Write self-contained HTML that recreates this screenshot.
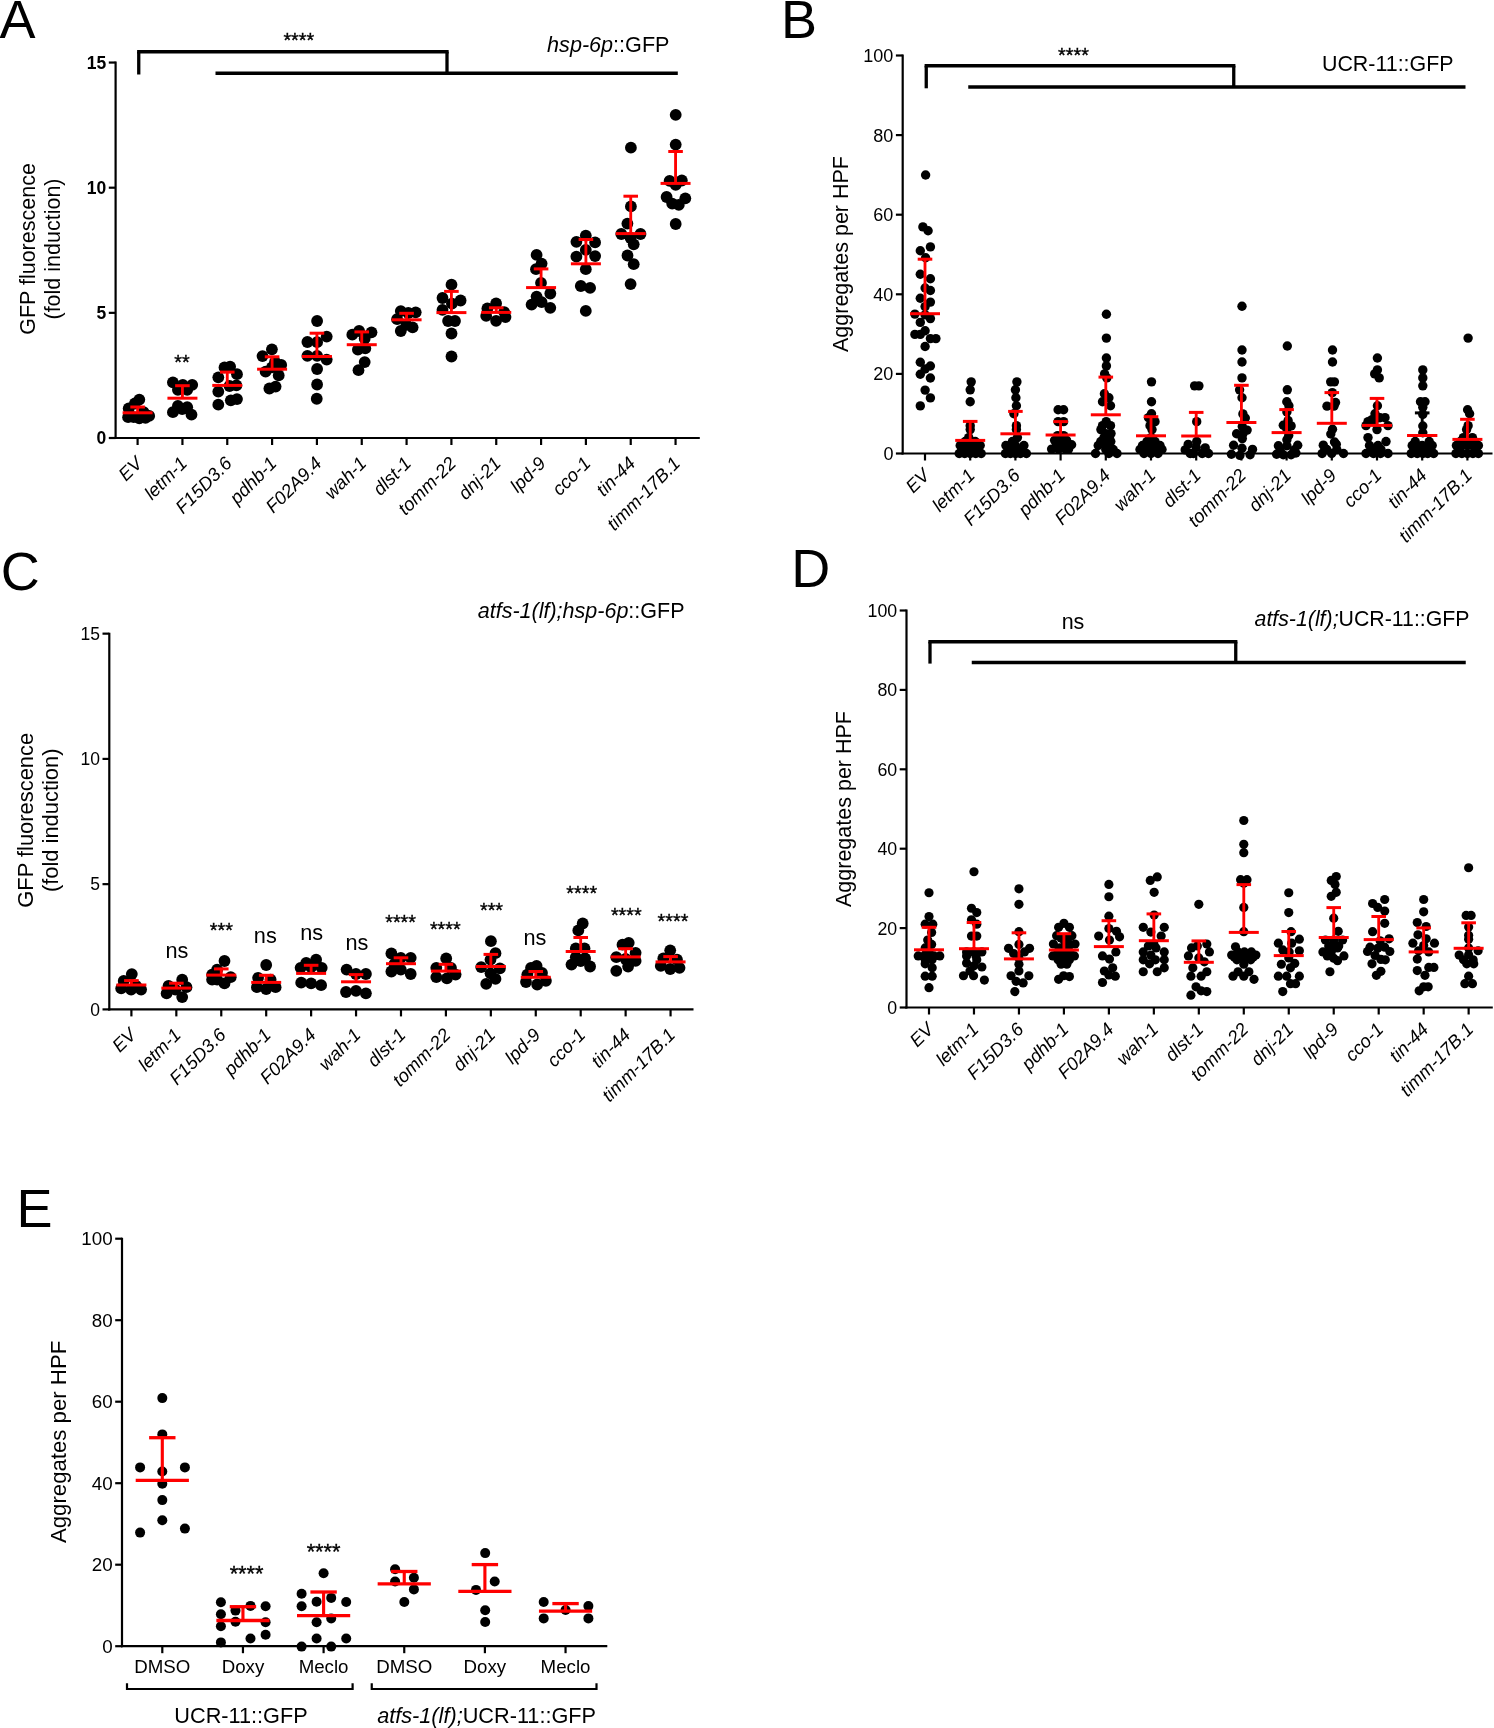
<!DOCTYPE html>
<html><head><meta charset="utf-8"><title>Figure</title>
<style>
html,body{margin:0;padding:0;background:#fff;}
body{width:1494px;height:1728px;overflow:hidden;font-family:"Liberation Sans", sans-serif;}
svg{display:block;will-change:transform;}
text{fill:#000;}
*{-webkit-font-smoothing:antialiased;}
</style></head>
<body>
<svg width="1494" height="1728" viewBox="0 0 1494 1728" font-family='"Liberation Sans", sans-serif'>
<rect width="1494" height="1728" fill="#fff"/>
<text x="-0.50" y="38.00" font-size="54" text-anchor="start" font-weight="normal" font-style="normal" >A</text>
<line x1="115.60" y1="61.55" x2="115.60" y2="439.10" stroke="#000" stroke-width="2.2" stroke-linecap="butt"/>
<line x1="114.50" y1="438.00" x2="699.80" y2="438.00" stroke="#000" stroke-width="2.2" stroke-linecap="butt"/>
<line x1="108.80" y1="438.00" x2="115.60" y2="438.00" stroke="#000" stroke-width="2.2" stroke-linecap="butt"/>
<text x="106.30" y="444.30" font-size="17.5" text-anchor="end" font-weight="bold" font-style="normal" >0</text>
<line x1="108.80" y1="312.85" x2="115.60" y2="312.85" stroke="#000" stroke-width="2.2" stroke-linecap="butt"/>
<text x="106.30" y="319.15" font-size="17.5" text-anchor="end" font-weight="bold" font-style="normal" >5</text>
<line x1="108.80" y1="187.70" x2="115.60" y2="187.70" stroke="#000" stroke-width="2.2" stroke-linecap="butt"/>
<text x="106.30" y="194.00" font-size="17.5" text-anchor="end" font-weight="bold" font-style="normal" >10</text>
<line x1="108.80" y1="62.55" x2="115.60" y2="62.55" stroke="#000" stroke-width="2.2" stroke-linecap="butt"/>
<text x="106.30" y="68.85" font-size="17.5" text-anchor="end" font-weight="bold" font-style="normal" >15</text>
<line x1="137.60" y1="438.00" x2="137.60" y2="445.00" stroke="#000" stroke-width="2.2" stroke-linecap="butt"/>
<line x1="182.43" y1="438.00" x2="182.43" y2="445.00" stroke="#000" stroke-width="2.2" stroke-linecap="butt"/>
<line x1="227.26" y1="438.00" x2="227.26" y2="445.00" stroke="#000" stroke-width="2.2" stroke-linecap="butt"/>
<line x1="272.09" y1="438.00" x2="272.09" y2="445.00" stroke="#000" stroke-width="2.2" stroke-linecap="butt"/>
<line x1="316.92" y1="438.00" x2="316.92" y2="445.00" stroke="#000" stroke-width="2.2" stroke-linecap="butt"/>
<line x1="361.75" y1="438.00" x2="361.75" y2="445.00" stroke="#000" stroke-width="2.2" stroke-linecap="butt"/>
<line x1="406.58" y1="438.00" x2="406.58" y2="445.00" stroke="#000" stroke-width="2.2" stroke-linecap="butt"/>
<line x1="451.41" y1="438.00" x2="451.41" y2="445.00" stroke="#000" stroke-width="2.2" stroke-linecap="butt"/>
<line x1="496.24" y1="438.00" x2="496.24" y2="445.00" stroke="#000" stroke-width="2.2" stroke-linecap="butt"/>
<line x1="541.07" y1="438.00" x2="541.07" y2="445.00" stroke="#000" stroke-width="2.2" stroke-linecap="butt"/>
<line x1="585.90" y1="438.00" x2="585.90" y2="445.00" stroke="#000" stroke-width="2.2" stroke-linecap="butt"/>
<line x1="630.73" y1="438.00" x2="630.73" y2="445.00" stroke="#000" stroke-width="2.2" stroke-linecap="butt"/>
<line x1="675.56" y1="438.00" x2="675.56" y2="445.00" stroke="#000" stroke-width="2.2" stroke-linecap="butt"/>
<text transform="translate(35,249) rotate(-90)" font-size="21.5" text-anchor="middle">GFP fluorescence</text>
<text transform="translate(60.3,249) rotate(-90)" font-size="21.5" text-anchor="middle">(fold induction)</text>
<line x1="138.75" y1="51.75" x2="447.00" y2="51.75" stroke="#000" stroke-width="3.3" stroke-linecap="square"/>
<line x1="138.75" y1="51.75" x2="138.75" y2="74.50" stroke="#000" stroke-width="3.3" stroke-linecap="butt"/>
<line x1="447.00" y1="51.75" x2="447.00" y2="73.25" stroke="#000" stroke-width="3.3" stroke-linecap="butt"/>
<line x1="215.50" y1="73.25" x2="677.80" y2="73.25" stroke="#000" stroke-width="3.3" stroke-linecap="butt"/>
<text x="298.80" y="47.02" font-size="19.8" text-anchor="middle" stroke="#000" stroke-width="0.35">****</text>
<text x="669.5" y="52" font-size="21.6" text-anchor="end"><tspan font-style="italic">hsp-6p</tspan>::GFP</text>
<text transform="translate(143.40,464.50) rotate(-45)" font-size="18.5" text-anchor="end" font-style="italic">EV</text>
<text transform="translate(188.23,464.50) rotate(-45)" font-size="18.5" text-anchor="end" font-style="italic">letm-1</text>
<text transform="translate(233.06,464.50) rotate(-45)" font-size="18.5" text-anchor="end" font-style="italic">F15D3.6</text>
<text transform="translate(277.89,464.50) rotate(-45)" font-size="18.5" text-anchor="end" font-style="italic">pdhb-1</text>
<text transform="translate(322.72,464.50) rotate(-45)" font-size="18.5" text-anchor="end" font-style="italic">F02A9.4</text>
<text transform="translate(367.55,464.50) rotate(-45)" font-size="18.5" text-anchor="end" font-style="italic">wah-1</text>
<text transform="translate(412.38,464.50) rotate(-45)" font-size="18.5" text-anchor="end" font-style="italic">dlst-1</text>
<text transform="translate(457.21,464.50) rotate(-45)" font-size="18.5" text-anchor="end" font-style="italic">tomm-22</text>
<text transform="translate(502.04,464.50) rotate(-45)" font-size="18.5" text-anchor="end" font-style="italic">dnj-21</text>
<text transform="translate(546.87,464.50) rotate(-45)" font-size="18.5" text-anchor="end" font-style="italic">lpd-9</text>
<text transform="translate(591.70,464.50) rotate(-45)" font-size="18.5" text-anchor="end" font-style="italic">cco-1</text>
<text transform="translate(636.53,464.50) rotate(-45)" font-size="18.5" text-anchor="end" font-style="italic">tin-44</text>
<text transform="translate(681.36,464.50) rotate(-45)" font-size="18.5" text-anchor="end" font-style="italic">timm-17B.1</text>
<circle cx="139.30" cy="399.70" r="5.9"/>
<circle cx="134.90" cy="403.50" r="5.9"/>
<circle cx="128.70" cy="408.40" r="5.9"/>
<circle cx="128.10" cy="417.20" r="5.9"/>
<circle cx="139.30" cy="418.40" r="5.9"/>
<circle cx="145.50" cy="417.80" r="5.9"/>
<circle cx="149.20" cy="415.90" r="5.9"/>
<circle cx="133.70" cy="417.20" r="5.9"/>
<circle cx="143.60" cy="412.20" r="5.9"/>
<circle cx="172.90" cy="382.30" r="5.9"/>
<circle cx="182.80" cy="384.80" r="5.9"/>
<circle cx="192.20" cy="384.80" r="5.9"/>
<circle cx="177.90" cy="389.80" r="5.9"/>
<circle cx="187.20" cy="389.80" r="5.9"/>
<circle cx="177.90" cy="405.90" r="5.9"/>
<circle cx="187.20" cy="407.20" r="5.9"/>
<circle cx="182.20" cy="409.10" r="5.9"/>
<circle cx="172.90" cy="412.20" r="5.9"/>
<circle cx="191.50" cy="414.70" r="5.9"/>
<circle cx="224.50" cy="367.40" r="5.9"/>
<circle cx="230.10" cy="366.70" r="5.9"/>
<circle cx="218.30" cy="377.30" r="5.9"/>
<circle cx="237.00" cy="374.20" r="5.9"/>
<circle cx="236.40" cy="385.40" r="5.9"/>
<circle cx="229.50" cy="386.00" r="5.9"/>
<circle cx="218.30" cy="391.60" r="5.9"/>
<circle cx="230.80" cy="400.30" r="5.9"/>
<circle cx="237.00" cy="399.10" r="5.9"/>
<circle cx="218.30" cy="404.70" r="5.9"/>
<circle cx="271.90" cy="349.30" r="5.9"/>
<circle cx="262.50" cy="356.10" r="5.9"/>
<circle cx="281.20" cy="364.90" r="5.9"/>
<circle cx="265.60" cy="371.70" r="5.9"/>
<circle cx="278.70" cy="375.40" r="5.9"/>
<circle cx="269.40" cy="388.50" r="5.9"/>
<circle cx="275.60" cy="386.60" r="5.9"/>
<circle cx="271.90" cy="367.40" r="5.9"/>
<circle cx="275.00" cy="362.00" r="5.9"/>
<circle cx="317.10" cy="321.00" r="5.9"/>
<circle cx="326.70" cy="336.60" r="5.9"/>
<circle cx="307.40" cy="342.00" r="5.9"/>
<circle cx="317.10" cy="342.20" r="5.9"/>
<circle cx="307.40" cy="355.90" r="5.9"/>
<circle cx="317.10" cy="355.90" r="5.9"/>
<circle cx="326.70" cy="359.60" r="5.9"/>
<circle cx="317.10" cy="369.00" r="5.9"/>
<circle cx="317.10" cy="384.50" r="5.9"/>
<circle cx="316.75" cy="398.75" r="5.9"/>
<circle cx="352.30" cy="334.70" r="5.9"/>
<circle cx="359.10" cy="331.00" r="5.9"/>
<circle cx="371.50" cy="332.30" r="5.9"/>
<circle cx="364.70" cy="338.50" r="5.9"/>
<circle cx="357.90" cy="349.70" r="5.9"/>
<circle cx="365.30" cy="348.40" r="5.9"/>
<circle cx="364.70" cy="362.10" r="5.9"/>
<circle cx="358.50" cy="370.20" r="5.9"/>
<circle cx="400.80" cy="311.10" r="5.9"/>
<circle cx="408.30" cy="313.00" r="5.9"/>
<circle cx="415.70" cy="312.30" r="5.9"/>
<circle cx="397.10" cy="319.20" r="5.9"/>
<circle cx="412.60" cy="327.30" r="5.9"/>
<circle cx="400.80" cy="331.00" r="5.9"/>
<circle cx="406.40" cy="324.80" r="5.9"/>
<circle cx="451.50" cy="284.70" r="5.9"/>
<circle cx="442.50" cy="298.00" r="5.9"/>
<circle cx="460.60" cy="300.50" r="5.9"/>
<circle cx="451.90" cy="303.60" r="5.9"/>
<circle cx="442.50" cy="309.80" r="5.9"/>
<circle cx="448.10" cy="321.00" r="5.9"/>
<circle cx="455.00" cy="321.00" r="5.9"/>
<circle cx="451.50" cy="333.50" r="5.9"/>
<circle cx="451.50" cy="356.50" r="5.9"/>
<circle cx="496.10" cy="303.40" r="5.9"/>
<circle cx="487.40" cy="308.40" r="5.9"/>
<circle cx="504.20" cy="312.10" r="5.9"/>
<circle cx="486.20" cy="315.90" r="5.9"/>
<circle cx="496.10" cy="320.80" r="5.9"/>
<circle cx="505.50" cy="317.10" r="5.9"/>
<circle cx="536.60" cy="254.90" r="5.9"/>
<circle cx="541.60" cy="263.60" r="5.9"/>
<circle cx="536.00" cy="269.20" r="5.9"/>
<circle cx="541.00" cy="282.90" r="5.9"/>
<circle cx="536.60" cy="296.60" r="5.9"/>
<circle cx="550.30" cy="293.50" r="5.9"/>
<circle cx="531.60" cy="304.70" r="5.9"/>
<circle cx="541.60" cy="302.20" r="5.9"/>
<circle cx="550.30" cy="307.80" r="5.9"/>
<circle cx="585.80" cy="235.60" r="5.9"/>
<circle cx="576.40" cy="241.80" r="5.9"/>
<circle cx="595.10" cy="242.40" r="5.9"/>
<circle cx="585.80" cy="249.90" r="5.9"/>
<circle cx="576.40" cy="256.70" r="5.9"/>
<circle cx="595.10" cy="256.10" r="5.9"/>
<circle cx="585.80" cy="269.20" r="5.9"/>
<circle cx="580.80" cy="286.00" r="5.9"/>
<circle cx="590.10" cy="287.90" r="5.9"/>
<circle cx="585.80" cy="310.90" r="5.9"/>
<circle cx="630.90" cy="147.70" r="5.9"/>
<circle cx="630.90" cy="206.40" r="5.9"/>
<circle cx="627.40" cy="223.60" r="5.9"/>
<circle cx="621.30" cy="234.00" r="5.9"/>
<circle cx="640.50" cy="234.00" r="5.9"/>
<circle cx="630.60" cy="238.00" r="5.9"/>
<circle cx="633.70" cy="244.30" r="5.9"/>
<circle cx="627.50" cy="255.50" r="5.9"/>
<circle cx="633.70" cy="264.20" r="5.9"/>
<circle cx="630.60" cy="284.10" r="5.9"/>
<circle cx="675.70" cy="114.80" r="5.9"/>
<circle cx="675.70" cy="144.60" r="5.9"/>
<circle cx="669.60" cy="180.90" r="5.9"/>
<circle cx="681.80" cy="180.50" r="5.9"/>
<circle cx="675.70" cy="184.90" r="5.9"/>
<circle cx="666.60" cy="197.00" r="5.9"/>
<circle cx="685.30" cy="198.30" r="5.9"/>
<circle cx="672.20" cy="203.60" r="5.9"/>
<circle cx="678.80" cy="204.90" r="5.9"/>
<circle cx="675.70" cy="224.00" r="5.9"/>
<line x1="137.60" y1="407.00" x2="137.60" y2="412.80" stroke="#ff0000" stroke-width="2.85"/>
<line x1="130.30" y1="407.00" x2="144.90" y2="407.00" stroke="#ff0000" stroke-width="3.0"/>
<line x1="122.60" y1="412.80" x2="152.60" y2="412.80" stroke="#ff0000" stroke-width="3.0"/>
<line x1="182.43" y1="385.70" x2="182.43" y2="398.20" stroke="#ff0000" stroke-width="2.85"/>
<line x1="175.13" y1="385.70" x2="189.73" y2="385.70" stroke="#ff0000" stroke-width="3.0"/>
<line x1="167.43" y1="398.20" x2="197.43" y2="398.20" stroke="#ff0000" stroke-width="3.0"/>
<line x1="227.26" y1="372.10" x2="227.26" y2="385.40" stroke="#ff0000" stroke-width="2.85"/>
<line x1="219.96" y1="372.10" x2="234.56" y2="372.10" stroke="#ff0000" stroke-width="3.0"/>
<line x1="212.26" y1="385.40" x2="242.26" y2="385.40" stroke="#ff0000" stroke-width="3.0"/>
<line x1="272.09" y1="356.80" x2="272.09" y2="369.20" stroke="#ff0000" stroke-width="2.85"/>
<line x1="264.79" y1="356.80" x2="279.39" y2="356.80" stroke="#ff0000" stroke-width="3.0"/>
<line x1="257.09" y1="369.20" x2="287.09" y2="369.20" stroke="#ff0000" stroke-width="3.0"/>
<line x1="316.92" y1="333.20" x2="316.92" y2="356.50" stroke="#ff0000" stroke-width="2.85"/>
<line x1="309.62" y1="333.20" x2="324.22" y2="333.20" stroke="#ff0000" stroke-width="3.0"/>
<line x1="301.92" y1="356.50" x2="331.92" y2="356.50" stroke="#ff0000" stroke-width="3.0"/>
<line x1="361.75" y1="331.90" x2="361.75" y2="344.70" stroke="#ff0000" stroke-width="2.85"/>
<line x1="354.45" y1="331.90" x2="369.05" y2="331.90" stroke="#ff0000" stroke-width="3.0"/>
<line x1="346.75" y1="344.70" x2="376.75" y2="344.70" stroke="#ff0000" stroke-width="3.0"/>
<line x1="406.58" y1="313.30" x2="406.58" y2="319.80" stroke="#ff0000" stroke-width="2.85"/>
<line x1="399.28" y1="313.30" x2="413.88" y2="313.30" stroke="#ff0000" stroke-width="3.0"/>
<line x1="391.58" y1="319.80" x2="421.58" y2="319.80" stroke="#ff0000" stroke-width="3.0"/>
<line x1="451.41" y1="291.40" x2="451.41" y2="312.60" stroke="#ff0000" stroke-width="2.85"/>
<line x1="444.11" y1="291.40" x2="458.71" y2="291.40" stroke="#ff0000" stroke-width="3.0"/>
<line x1="436.41" y1="312.60" x2="466.41" y2="312.60" stroke="#ff0000" stroke-width="3.0"/>
<line x1="496.24" y1="307.80" x2="496.24" y2="312.40" stroke="#ff0000" stroke-width="2.85"/>
<line x1="488.94" y1="307.80" x2="503.54" y2="307.80" stroke="#ff0000" stroke-width="3.0"/>
<line x1="481.24" y1="312.40" x2="511.24" y2="312.40" stroke="#ff0000" stroke-width="3.0"/>
<line x1="541.07" y1="268.90" x2="541.07" y2="287.60" stroke="#ff0000" stroke-width="2.85"/>
<line x1="533.77" y1="268.90" x2="548.37" y2="268.90" stroke="#ff0000" stroke-width="3.0"/>
<line x1="526.07" y1="287.60" x2="556.07" y2="287.60" stroke="#ff0000" stroke-width="3.0"/>
<line x1="585.90" y1="239.50" x2="585.90" y2="263.80" stroke="#ff0000" stroke-width="2.85"/>
<line x1="578.60" y1="239.50" x2="593.20" y2="239.50" stroke="#ff0000" stroke-width="3.0"/>
<line x1="570.90" y1="263.80" x2="600.90" y2="263.80" stroke="#ff0000" stroke-width="3.0"/>
<line x1="630.73" y1="196.20" x2="630.73" y2="233.60" stroke="#ff0000" stroke-width="2.85"/>
<line x1="623.43" y1="196.20" x2="638.03" y2="196.20" stroke="#ff0000" stroke-width="3.0"/>
<line x1="615.73" y1="233.60" x2="645.73" y2="233.60" stroke="#ff0000" stroke-width="3.0"/>
<line x1="675.56" y1="151.50" x2="675.56" y2="183.40" stroke="#ff0000" stroke-width="2.85"/>
<line x1="668.26" y1="151.50" x2="682.86" y2="151.50" stroke="#ff0000" stroke-width="3.0"/>
<line x1="660.56" y1="183.40" x2="690.56" y2="183.40" stroke="#ff0000" stroke-width="3.0"/>
<text x="181.90" y="368.52" font-size="19.8" text-anchor="middle" stroke="#000" stroke-width="0.35">**</text>
<text x="781.10" y="38.00" font-size="54" text-anchor="start" font-weight="normal" font-style="normal" >B</text>
<line x1="902.70" y1="54.50" x2="902.70" y2="454.60" stroke="#000" stroke-width="2.2" stroke-linecap="butt"/>
<line x1="901.60" y1="453.50" x2="1492.50" y2="453.50" stroke="#000" stroke-width="2.2" stroke-linecap="butt"/>
<line x1="895.90" y1="453.50" x2="902.70" y2="453.50" stroke="#000" stroke-width="2.2" stroke-linecap="butt"/>
<text x="893.40" y="459.98" font-size="18" text-anchor="end" font-weight="normal" font-style="normal" >0</text>
<line x1="895.90" y1="373.90" x2="902.70" y2="373.90" stroke="#000" stroke-width="2.2" stroke-linecap="butt"/>
<text x="893.40" y="380.38" font-size="18" text-anchor="end" font-weight="normal" font-style="normal" >20</text>
<line x1="895.90" y1="294.30" x2="902.70" y2="294.30" stroke="#000" stroke-width="2.2" stroke-linecap="butt"/>
<text x="893.40" y="300.78" font-size="18" text-anchor="end" font-weight="normal" font-style="normal" >40</text>
<line x1="895.90" y1="214.70" x2="902.70" y2="214.70" stroke="#000" stroke-width="2.2" stroke-linecap="butt"/>
<text x="893.40" y="221.18" font-size="18" text-anchor="end" font-weight="normal" font-style="normal" >60</text>
<line x1="895.90" y1="135.10" x2="902.70" y2="135.10" stroke="#000" stroke-width="2.2" stroke-linecap="butt"/>
<text x="893.40" y="141.58" font-size="18" text-anchor="end" font-weight="normal" font-style="normal" >80</text>
<line x1="895.90" y1="55.50" x2="902.70" y2="55.50" stroke="#000" stroke-width="2.2" stroke-linecap="butt"/>
<text x="893.40" y="61.98" font-size="18" text-anchor="end" font-weight="normal" font-style="normal" >100</text>
<line x1="925.00" y1="453.50" x2="925.00" y2="460.50" stroke="#000" stroke-width="2.2" stroke-linecap="butt"/>
<line x1="970.20" y1="453.50" x2="970.20" y2="460.50" stroke="#000" stroke-width="2.2" stroke-linecap="butt"/>
<line x1="1015.40" y1="453.50" x2="1015.40" y2="460.50" stroke="#000" stroke-width="2.2" stroke-linecap="butt"/>
<line x1="1060.60" y1="453.50" x2="1060.60" y2="460.50" stroke="#000" stroke-width="2.2" stroke-linecap="butt"/>
<line x1="1105.80" y1="453.50" x2="1105.80" y2="460.50" stroke="#000" stroke-width="2.2" stroke-linecap="butt"/>
<line x1="1151.00" y1="453.50" x2="1151.00" y2="460.50" stroke="#000" stroke-width="2.2" stroke-linecap="butt"/>
<line x1="1196.20" y1="453.50" x2="1196.20" y2="460.50" stroke="#000" stroke-width="2.2" stroke-linecap="butt"/>
<line x1="1241.40" y1="453.50" x2="1241.40" y2="460.50" stroke="#000" stroke-width="2.2" stroke-linecap="butt"/>
<line x1="1286.60" y1="453.50" x2="1286.60" y2="460.50" stroke="#000" stroke-width="2.2" stroke-linecap="butt"/>
<line x1="1331.80" y1="453.50" x2="1331.80" y2="460.50" stroke="#000" stroke-width="2.2" stroke-linecap="butt"/>
<line x1="1377.00" y1="453.50" x2="1377.00" y2="460.50" stroke="#000" stroke-width="2.2" stroke-linecap="butt"/>
<line x1="1422.20" y1="453.50" x2="1422.20" y2="460.50" stroke="#000" stroke-width="2.2" stroke-linecap="butt"/>
<line x1="1467.40" y1="453.50" x2="1467.40" y2="460.50" stroke="#000" stroke-width="2.2" stroke-linecap="butt"/>
<text transform="translate(847.5,254) rotate(-90)" font-size="21.5" text-anchor="middle">Aggregates per HPF</text>
<line x1="926.25" y1="65.75" x2="1233.75" y2="65.75" stroke="#000" stroke-width="3.3" stroke-linecap="square"/>
<line x1="926.25" y1="65.75" x2="926.25" y2="88.30" stroke="#000" stroke-width="3.3" stroke-linecap="butt"/>
<line x1="1233.75" y1="65.75" x2="1233.75" y2="87.00" stroke="#000" stroke-width="3.3" stroke-linecap="butt"/>
<line x1="968.25" y1="87.00" x2="1465.50" y2="87.00" stroke="#000" stroke-width="3.3" stroke-linecap="butt"/>
<text x="1073.50" y="62.02" font-size="19.8" text-anchor="middle" stroke="#000" stroke-width="0.35">****</text>
<text x="1453.50" y="70.50" font-size="21.4" text-anchor="end" font-weight="normal" font-style="normal" >UCR-11::GFP</text>
<text transform="translate(930.80,476.50) rotate(-45)" font-size="18.5" text-anchor="end" font-style="italic">EV</text>
<text transform="translate(976.00,476.50) rotate(-45)" font-size="18.5" text-anchor="end" font-style="italic">letm-1</text>
<text transform="translate(1021.20,476.50) rotate(-45)" font-size="18.5" text-anchor="end" font-style="italic">F15D3.6</text>
<text transform="translate(1066.40,476.50) rotate(-45)" font-size="18.5" text-anchor="end" font-style="italic">pdhb-1</text>
<text transform="translate(1111.60,476.50) rotate(-45)" font-size="18.5" text-anchor="end" font-style="italic">F02A9.4</text>
<text transform="translate(1156.80,476.50) rotate(-45)" font-size="18.5" text-anchor="end" font-style="italic">wah-1</text>
<text transform="translate(1202.00,476.50) rotate(-45)" font-size="18.5" text-anchor="end" font-style="italic">dlst-1</text>
<text transform="translate(1247.20,476.50) rotate(-45)" font-size="18.5" text-anchor="end" font-style="italic">tomm-22</text>
<text transform="translate(1292.40,476.50) rotate(-45)" font-size="18.5" text-anchor="end" font-style="italic">dnj-21</text>
<text transform="translate(1337.60,476.50) rotate(-45)" font-size="18.5" text-anchor="end" font-style="italic">lpd-9</text>
<text transform="translate(1382.80,476.50) rotate(-45)" font-size="18.5" text-anchor="end" font-style="italic">cco-1</text>
<text transform="translate(1428.00,476.50) rotate(-45)" font-size="18.5" text-anchor="end" font-style="italic">tin-44</text>
<text transform="translate(1473.20,476.50) rotate(-45)" font-size="18.5" text-anchor="end" font-style="italic">timm-17B.1</text>
<line x1="1422.20" y1="412.90" x2="1422.20" y2="435.50" stroke="#000" stroke-width="2.85"/>
<line x1="1414.90" y1="412.90" x2="1429.50" y2="412.90" stroke="#000" stroke-width="3.0"/>
<line x1="1407.20" y1="435.50" x2="1437.20" y2="435.50" stroke="#ff0000" stroke-width="3.0"/>
<circle cx="925.60" cy="175.00" r="4.7"/>
<circle cx="922.90" cy="226.90" r="4.7"/>
<circle cx="928.10" cy="230.70" r="4.7"/>
<circle cx="930.40" cy="246.90" r="4.7"/>
<circle cx="920.30" cy="250.70" r="4.7"/>
<circle cx="925.60" cy="257.70" r="4.7"/>
<circle cx="920.30" cy="274.30" r="4.7"/>
<circle cx="930.40" cy="278.80" r="4.7"/>
<circle cx="930.40" cy="290.50" r="4.7"/>
<circle cx="925.10" cy="288.00" r="4.7"/>
<circle cx="920.30" cy="298.30" r="4.7"/>
<circle cx="930.40" cy="302.10" r="4.7"/>
<circle cx="925.10" cy="306.60" r="4.7"/>
<circle cx="914.90" cy="314.10" r="4.7"/>
<circle cx="925.10" cy="314.90" r="4.7"/>
<circle cx="930.40" cy="318.60" r="4.7"/>
<circle cx="920.30" cy="322.40" r="4.7"/>
<circle cx="925.10" cy="330.70" r="4.7"/>
<circle cx="914.90" cy="334.40" r="4.7"/>
<circle cx="920.30" cy="334.40" r="4.7"/>
<circle cx="930.40" cy="338.60" r="4.7"/>
<circle cx="935.90" cy="338.60" r="4.7"/>
<circle cx="925.10" cy="346.50" r="4.7"/>
<circle cx="920.30" cy="362.30" r="4.7"/>
<circle cx="930.40" cy="366.00" r="4.7"/>
<circle cx="925.10" cy="369.00" r="4.7"/>
<circle cx="920.30" cy="374.30" r="4.7"/>
<circle cx="930.40" cy="378.00" r="4.7"/>
<circle cx="925.10" cy="390.10" r="4.7"/>
<circle cx="930.40" cy="397.90" r="4.7"/>
<circle cx="920.30" cy="405.90" r="4.7"/>
<circle cx="971.20" cy="381.86" r="4.7"/>
<circle cx="970.20" cy="389.82" r="4.7"/>
<circle cx="970.20" cy="401.76" r="4.7"/>
<circle cx="970.20" cy="425.64" r="4.7"/>
<circle cx="970.20" cy="429.62" r="4.7"/>
<circle cx="968.70" cy="437.58" r="4.7"/>
<circle cx="965.20" cy="441.56" r="4.7"/>
<circle cx="975.20" cy="441.56" r="4.7"/>
<circle cx="960.20" cy="445.54" r="4.7"/>
<circle cx="965.20" cy="445.54" r="4.7"/>
<circle cx="970.20" cy="445.54" r="4.7"/>
<circle cx="975.20" cy="445.54" r="4.7"/>
<circle cx="980.20" cy="445.54" r="4.7"/>
<circle cx="962.20" cy="449.52" r="4.7"/>
<circle cx="970.20" cy="449.52" r="4.7"/>
<circle cx="978.20" cy="449.52" r="4.7"/>
<circle cx="959.20" cy="453.50" r="4.7"/>
<circle cx="964.70" cy="453.50" r="4.7"/>
<circle cx="970.20" cy="453.50" r="4.7"/>
<circle cx="975.70" cy="453.50" r="4.7"/>
<circle cx="981.20" cy="453.50" r="4.7"/>
<circle cx="1016.90" cy="381.86" r="4.7"/>
<circle cx="1015.40" cy="389.82" r="4.7"/>
<circle cx="1015.90" cy="397.78" r="4.7"/>
<circle cx="1016.40" cy="405.74" r="4.7"/>
<circle cx="1013.90" cy="413.70" r="4.7"/>
<circle cx="1016.40" cy="425.64" r="4.7"/>
<circle cx="1016.40" cy="429.62" r="4.7"/>
<circle cx="1017.40" cy="437.58" r="4.7"/>
<circle cx="1012.40" cy="441.56" r="4.7"/>
<circle cx="1005.90" cy="445.54" r="4.7"/>
<circle cx="1023.90" cy="445.54" r="4.7"/>
<circle cx="1015.40" cy="445.54" r="4.7"/>
<circle cx="1010.40" cy="449.52" r="4.7"/>
<circle cx="1020.40" cy="449.52" r="4.7"/>
<circle cx="1005.40" cy="453.50" r="4.7"/>
<circle cx="1010.40" cy="453.50" r="4.7"/>
<circle cx="1015.40" cy="453.50" r="4.7"/>
<circle cx="1020.40" cy="453.50" r="4.7"/>
<circle cx="1026.40" cy="453.50" r="4.7"/>
<circle cx="1058.10" cy="409.72" r="4.7"/>
<circle cx="1063.60" cy="409.72" r="4.7"/>
<circle cx="1058.10" cy="421.66" r="4.7"/>
<circle cx="1063.60" cy="421.66" r="4.7"/>
<circle cx="1057.60" cy="435.59" r="4.7"/>
<circle cx="1063.60" cy="435.59" r="4.7"/>
<circle cx="1054.60" cy="440.37" r="4.7"/>
<circle cx="1060.60" cy="440.37" r="4.7"/>
<circle cx="1066.60" cy="440.37" r="4.7"/>
<circle cx="1056.60" cy="444.74" r="4.7"/>
<circle cx="1064.60" cy="444.74" r="4.7"/>
<circle cx="1071.60" cy="444.74" r="4.7"/>
<circle cx="1051.60" cy="449.12" r="4.7"/>
<circle cx="1058.60" cy="449.12" r="4.7"/>
<circle cx="1065.60" cy="449.12" r="4.7"/>
<circle cx="1068.60" cy="449.12" r="4.7"/>
<circle cx="1106.40" cy="314.20" r="4.7"/>
<circle cx="1106.40" cy="338.08" r="4.7"/>
<circle cx="1106.40" cy="357.98" r="4.7"/>
<circle cx="1106.40" cy="365.94" r="4.7"/>
<circle cx="1104.60" cy="373.90" r="4.7"/>
<circle cx="1106.80" cy="377.88" r="4.7"/>
<circle cx="1104.40" cy="393.80" r="4.7"/>
<circle cx="1108.90" cy="397.78" r="4.7"/>
<circle cx="1102.50" cy="401.76" r="4.7"/>
<circle cx="1110.50" cy="405.74" r="4.7"/>
<circle cx="1106.20" cy="421.66" r="4.7"/>
<circle cx="1102.50" cy="425.64" r="4.7"/>
<circle cx="1110.50" cy="425.64" r="4.7"/>
<circle cx="1100.90" cy="429.62" r="4.7"/>
<circle cx="1111.00" cy="433.60" r="4.7"/>
<circle cx="1105.80" cy="433.60" r="4.7"/>
<circle cx="1104.00" cy="437.58" r="4.7"/>
<circle cx="1109.40" cy="437.58" r="4.7"/>
<circle cx="1100.80" cy="441.56" r="4.7"/>
<circle cx="1110.80" cy="441.56" r="4.7"/>
<circle cx="1098.20" cy="445.54" r="4.7"/>
<circle cx="1105.70" cy="445.54" r="4.7"/>
<circle cx="1113.20" cy="449.52" r="4.7"/>
<circle cx="1105.80" cy="449.52" r="4.7"/>
<circle cx="1095.50" cy="453.50" r="4.7"/>
<circle cx="1108.90" cy="453.50" r="4.7"/>
<circle cx="1117.00" cy="453.50" r="4.7"/>
<circle cx="1151.50" cy="381.86" r="4.7"/>
<circle cx="1151.50" cy="401.76" r="4.7"/>
<circle cx="1151.50" cy="413.70" r="4.7"/>
<circle cx="1148.50" cy="417.68" r="4.7"/>
<circle cx="1155.00" cy="421.66" r="4.7"/>
<circle cx="1150.00" cy="425.64" r="4.7"/>
<circle cx="1152.00" cy="429.62" r="4.7"/>
<circle cx="1151.00" cy="437.58" r="4.7"/>
<circle cx="1147.00" cy="441.56" r="4.7"/>
<circle cx="1155.00" cy="441.56" r="4.7"/>
<circle cx="1142.50" cy="445.54" r="4.7"/>
<circle cx="1151.00" cy="445.54" r="4.7"/>
<circle cx="1160.00" cy="445.54" r="4.7"/>
<circle cx="1140.00" cy="449.52" r="4.7"/>
<circle cx="1162.00" cy="449.52" r="4.7"/>
<circle cx="1147.00" cy="449.52" r="4.7"/>
<circle cx="1155.00" cy="449.52" r="4.7"/>
<circle cx="1144.00" cy="453.50" r="4.7"/>
<circle cx="1151.00" cy="453.50" r="4.7"/>
<circle cx="1158.00" cy="453.50" r="4.7"/>
<circle cx="1194.60" cy="385.84" r="4.7"/>
<circle cx="1198.90" cy="385.84" r="4.7"/>
<circle cx="1196.70" cy="421.66" r="4.7"/>
<circle cx="1196.70" cy="441.56" r="4.7"/>
<circle cx="1188.20" cy="444.35" r="4.7"/>
<circle cx="1205.20" cy="447.93" r="4.7"/>
<circle cx="1185.20" cy="449.92" r="4.7"/>
<circle cx="1196.20" cy="447.53" r="4.7"/>
<circle cx="1193.50" cy="453.50" r="4.7"/>
<circle cx="1202.20" cy="453.50" r="4.7"/>
<circle cx="1208.50" cy="453.50" r="4.7"/>
<circle cx="1190.20" cy="453.50" r="4.7"/>
<circle cx="1242.00" cy="306.24" r="4.7"/>
<circle cx="1242.00" cy="350.02" r="4.7"/>
<circle cx="1242.00" cy="361.96" r="4.7"/>
<circle cx="1242.00" cy="377.88" r="4.7"/>
<circle cx="1239.60" cy="389.82" r="4.7"/>
<circle cx="1242.00" cy="397.78" r="4.7"/>
<circle cx="1287.30" cy="346.04" r="4.7"/>
<circle cx="1287.30" cy="389.82" r="4.7"/>
<circle cx="1286.80" cy="401.76" r="4.7"/>
<circle cx="1288.90" cy="405.74" r="4.7"/>
<circle cx="1332.50" cy="350.02" r="4.7"/>
<circle cx="1332.50" cy="361.96" r="4.7"/>
<circle cx="1330.70" cy="381.86" r="4.7"/>
<circle cx="1334.40" cy="381.86" r="4.7"/>
<circle cx="1332.30" cy="392.61" r="4.7"/>
<circle cx="1335.50" cy="402.56" r="4.7"/>
<circle cx="1327.00" cy="406.14" r="4.7"/>
<circle cx="1333.90" cy="406.14" r="4.7"/>
<circle cx="1332.50" cy="429.22" r="4.7"/>
<circle cx="1330.80" cy="434.00" r="4.7"/>
<circle cx="1334.50" cy="441.96" r="4.7"/>
<circle cx="1323.30" cy="445.14" r="4.7"/>
<circle cx="1336.30" cy="444.35" r="4.7"/>
<circle cx="1326.80" cy="449.52" r="4.7"/>
<circle cx="1336.80" cy="449.52" r="4.7"/>
<circle cx="1322.10" cy="453.50" r="4.7"/>
<circle cx="1331.70" cy="453.50" r="4.7"/>
<circle cx="1343.50" cy="453.50" r="4.7"/>
<circle cx="1377.40" cy="357.98" r="4.7"/>
<circle cx="1377.40" cy="369.92" r="4.7"/>
<circle cx="1374.70" cy="373.90" r="4.7"/>
<circle cx="1379.20" cy="377.88" r="4.7"/>
<circle cx="1377.40" cy="405.74" r="4.7"/>
<circle cx="1375.00" cy="413.70" r="4.7"/>
<circle cx="1385.00" cy="417.68" r="4.7"/>
<circle cx="1380.00" cy="417.68" r="4.7"/>
<circle cx="1372.00" cy="419.67" r="4.7"/>
<circle cx="1368.00" cy="421.66" r="4.7"/>
<circle cx="1374.00" cy="421.66" r="4.7"/>
<circle cx="1366.00" cy="425.64" r="4.7"/>
<circle cx="1388.00" cy="425.64" r="4.7"/>
<circle cx="1377.00" cy="429.62" r="4.7"/>
<circle cx="1368.00" cy="437.58" r="4.7"/>
<circle cx="1386.00" cy="441.56" r="4.7"/>
<circle cx="1369.50" cy="445.54" r="4.7"/>
<circle cx="1378.00" cy="445.54" r="4.7"/>
<circle cx="1373.00" cy="449.52" r="4.7"/>
<circle cx="1381.00" cy="449.52" r="4.7"/>
<circle cx="1366.00" cy="453.50" r="4.7"/>
<circle cx="1373.50" cy="453.50" r="4.7"/>
<circle cx="1380.50" cy="453.50" r="4.7"/>
<circle cx="1388.00" cy="453.50" r="4.7"/>
<circle cx="1422.80" cy="369.92" r="4.7"/>
<circle cx="1422.80" cy="377.88" r="4.7"/>
<circle cx="1422.80" cy="385.84" r="4.7"/>
<circle cx="1420.50" cy="401.76" r="4.7"/>
<circle cx="1425.00" cy="401.76" r="4.7"/>
<circle cx="1422.80" cy="407.33" r="4.7"/>
<circle cx="1422.80" cy="414.50" r="4.7"/>
<circle cx="1422.80" cy="426.04" r="4.7"/>
<circle cx="1422.80" cy="432.80" r="4.7"/>
<circle cx="1415.20" cy="441.56" r="4.7"/>
<circle cx="1429.20" cy="441.56" r="4.7"/>
<circle cx="1412.20" cy="445.54" r="4.7"/>
<circle cx="1432.20" cy="445.54" r="4.7"/>
<circle cx="1422.20" cy="445.54" r="4.7"/>
<circle cx="1417.20" cy="449.52" r="4.7"/>
<circle cx="1427.20" cy="449.52" r="4.7"/>
<circle cx="1411.20" cy="453.50" r="4.7"/>
<circle cx="1417.20" cy="453.50" r="4.7"/>
<circle cx="1422.80" cy="453.50" r="4.7"/>
<circle cx="1427.70" cy="453.50" r="4.7"/>
<circle cx="1433.70" cy="453.50" r="4.7"/>
<circle cx="1468.10" cy="338.08" r="4.7"/>
<circle cx="1467.60" cy="409.72" r="4.7"/>
<circle cx="1469.60" cy="413.70" r="4.7"/>
<circle cx="1468.10" cy="425.64" r="4.7"/>
<circle cx="1466.60" cy="429.62" r="4.7"/>
<circle cx="1463.40" cy="437.58" r="4.7"/>
<circle cx="1472.40" cy="437.58" r="4.7"/>
<circle cx="1460.40" cy="441.56" r="4.7"/>
<circle cx="1467.40" cy="441.56" r="4.7"/>
<circle cx="1474.40" cy="441.56" r="4.7"/>
<circle cx="1456.40" cy="445.54" r="4.7"/>
<circle cx="1462.40" cy="445.54" r="4.7"/>
<circle cx="1467.40" cy="445.54" r="4.7"/>
<circle cx="1472.40" cy="445.54" r="4.7"/>
<circle cx="1478.40" cy="445.54" r="4.7"/>
<circle cx="1459.40" cy="449.52" r="4.7"/>
<circle cx="1475.40" cy="449.52" r="4.7"/>
<circle cx="1455.90" cy="453.50" r="4.7"/>
<circle cx="1461.90" cy="453.50" r="4.7"/>
<circle cx="1467.40" cy="453.50" r="4.7"/>
<circle cx="1472.90" cy="453.50" r="4.7"/>
<circle cx="1478.40" cy="453.50" r="4.7"/>
<circle cx="1242.30" cy="426.50" r="4.7"/>
<circle cx="1247.10" cy="430.10" r="4.7"/>
<circle cx="1236.60" cy="433.70" r="4.7"/>
<circle cx="1242.90" cy="433.70" r="4.7"/>
<circle cx="1242.30" cy="438.60" r="4.7"/>
<circle cx="1233.60" cy="445.20" r="4.7"/>
<circle cx="1242.00" cy="448.20" r="4.7"/>
<circle cx="1252.50" cy="449.40" r="4.7"/>
<circle cx="1231.40" cy="454.20" r="4.7"/>
<circle cx="1239.90" cy="455.40" r="4.7"/>
<circle cx="1250.10" cy="454.80" r="4.7"/>
<circle cx="1242.90" cy="413.90" r="4.7"/>
<circle cx="1245.30" cy="418.10" r="4.7"/>
<circle cx="1286.90" cy="412.00" r="4.7"/>
<circle cx="1288.10" cy="420.50" r="4.7"/>
<circle cx="1283.30" cy="425.30" r="4.7"/>
<circle cx="1291.10" cy="425.90" r="4.7"/>
<circle cx="1286.90" cy="428.90" r="4.7"/>
<circle cx="1288.70" cy="435.50" r="4.7"/>
<circle cx="1286.90" cy="439.80" r="4.7"/>
<circle cx="1278.40" cy="445.80" r="4.7"/>
<circle cx="1297.70" cy="445.20" r="4.7"/>
<circle cx="1286.90" cy="445.80" r="4.7"/>
<circle cx="1276.60" cy="454.20" r="4.7"/>
<circle cx="1283.30" cy="454.80" r="4.7"/>
<circle cx="1291.10" cy="454.80" r="4.7"/>
<circle cx="1295.90" cy="453.00" r="4.7"/>
<circle cx="1280.20" cy="450.00" r="4.7"/>
<circle cx="1294.10" cy="450.00" r="4.7"/>
<line x1="925.00" y1="259.20" x2="925.00" y2="313.70" stroke="#ff0000" stroke-width="2.85"/>
<line x1="917.70" y1="259.20" x2="932.30" y2="259.20" stroke="#ff0000" stroke-width="3.0"/>
<line x1="910.00" y1="313.70" x2="940.00" y2="313.70" stroke="#ff0000" stroke-width="3.0"/>
<line x1="970.20" y1="421.40" x2="970.20" y2="440.40" stroke="#ff0000" stroke-width="2.85"/>
<line x1="962.90" y1="421.40" x2="977.50" y2="421.40" stroke="#ff0000" stroke-width="3.0"/>
<line x1="955.20" y1="440.40" x2="985.20" y2="440.40" stroke="#ff0000" stroke-width="3.0"/>
<line x1="1015.40" y1="411.40" x2="1015.40" y2="433.80" stroke="#ff0000" stroke-width="2.85"/>
<line x1="1008.10" y1="411.40" x2="1022.70" y2="411.40" stroke="#ff0000" stroke-width="3.0"/>
<line x1="1000.40" y1="433.80" x2="1030.40" y2="433.80" stroke="#ff0000" stroke-width="3.0"/>
<line x1="1060.60" y1="421.60" x2="1060.60" y2="435.00" stroke="#ff0000" stroke-width="2.85"/>
<line x1="1053.30" y1="421.60" x2="1067.90" y2="421.60" stroke="#ff0000" stroke-width="3.0"/>
<line x1="1045.60" y1="435.00" x2="1075.60" y2="435.00" stroke="#ff0000" stroke-width="3.0"/>
<line x1="1105.80" y1="377.10" x2="1105.80" y2="414.80" stroke="#ff0000" stroke-width="2.85"/>
<line x1="1098.50" y1="377.10" x2="1113.10" y2="377.10" stroke="#ff0000" stroke-width="3.0"/>
<line x1="1090.80" y1="414.80" x2="1120.80" y2="414.80" stroke="#ff0000" stroke-width="3.0"/>
<line x1="1151.00" y1="416.70" x2="1151.00" y2="435.80" stroke="#ff0000" stroke-width="2.85"/>
<line x1="1143.70" y1="416.70" x2="1158.30" y2="416.70" stroke="#ff0000" stroke-width="3.0"/>
<line x1="1136.00" y1="435.80" x2="1166.00" y2="435.80" stroke="#ff0000" stroke-width="3.0"/>
<line x1="1196.20" y1="412.40" x2="1196.20" y2="436.00" stroke="#ff0000" stroke-width="2.85"/>
<line x1="1188.90" y1="412.40" x2="1203.50" y2="412.40" stroke="#ff0000" stroke-width="3.0"/>
<line x1="1181.20" y1="436.00" x2="1211.20" y2="436.00" stroke="#ff0000" stroke-width="3.0"/>
<line x1="1241.40" y1="385.30" x2="1241.40" y2="422.50" stroke="#ff0000" stroke-width="2.85"/>
<line x1="1234.10" y1="385.30" x2="1248.70" y2="385.30" stroke="#ff0000" stroke-width="3.0"/>
<line x1="1226.40" y1="422.50" x2="1256.40" y2="422.50" stroke="#ff0000" stroke-width="3.0"/>
<line x1="1286.60" y1="409.60" x2="1286.60" y2="432.60" stroke="#ff0000" stroke-width="2.85"/>
<line x1="1279.30" y1="409.60" x2="1293.90" y2="409.60" stroke="#ff0000" stroke-width="3.0"/>
<line x1="1271.60" y1="432.60" x2="1301.60" y2="432.60" stroke="#ff0000" stroke-width="3.0"/>
<line x1="1331.80" y1="392.60" x2="1331.80" y2="423.30" stroke="#ff0000" stroke-width="2.85"/>
<line x1="1324.50" y1="392.60" x2="1339.10" y2="392.60" stroke="#ff0000" stroke-width="3.0"/>
<line x1="1316.80" y1="423.30" x2="1346.80" y2="423.30" stroke="#ff0000" stroke-width="3.0"/>
<line x1="1377.00" y1="398.40" x2="1377.00" y2="425.40" stroke="#ff0000" stroke-width="2.85"/>
<line x1="1369.70" y1="398.40" x2="1384.30" y2="398.40" stroke="#ff0000" stroke-width="3.0"/>
<line x1="1362.00" y1="425.40" x2="1392.00" y2="425.40" stroke="#ff0000" stroke-width="3.0"/>
<line x1="1407.20" y1="435.50" x2="1437.20" y2="435.50" stroke="#ff0000" stroke-width="3.0" stroke-linecap="butt"/>
<line x1="1467.40" y1="419.30" x2="1467.40" y2="439.40" stroke="#ff0000" stroke-width="2.85"/>
<line x1="1460.10" y1="419.30" x2="1474.70" y2="419.30" stroke="#ff0000" stroke-width="3.0"/>
<line x1="1452.40" y1="439.40" x2="1482.40" y2="439.40" stroke="#ff0000" stroke-width="3.0"/>
<text x="0.65" y="589.90" font-size="54" text-anchor="start" font-weight="normal" font-style="normal" >C</text>
<line x1="109.30" y1="632.65" x2="109.30" y2="1010.50" stroke="#000" stroke-width="2.2" stroke-linecap="butt"/>
<line x1="108.20" y1="1009.40" x2="693.50" y2="1009.40" stroke="#000" stroke-width="2.2" stroke-linecap="butt"/>
<line x1="102.50" y1="1009.40" x2="109.30" y2="1009.40" stroke="#000" stroke-width="2.2" stroke-linecap="butt"/>
<text x="100.00" y="1015.70" font-size="17.5" text-anchor="end" font-weight="normal" font-style="normal" >0</text>
<line x1="102.50" y1="884.15" x2="109.30" y2="884.15" stroke="#000" stroke-width="2.2" stroke-linecap="butt"/>
<text x="100.00" y="890.45" font-size="17.5" text-anchor="end" font-weight="normal" font-style="normal" >5</text>
<line x1="102.50" y1="758.90" x2="109.30" y2="758.90" stroke="#000" stroke-width="2.2" stroke-linecap="butt"/>
<text x="100.00" y="765.20" font-size="17.5" text-anchor="end" font-weight="normal" font-style="normal" >10</text>
<line x1="102.50" y1="633.65" x2="109.30" y2="633.65" stroke="#000" stroke-width="2.2" stroke-linecap="butt"/>
<text x="100.00" y="639.95" font-size="17.5" text-anchor="end" font-weight="normal" font-style="normal" >15</text>
<line x1="131.40" y1="1009.40" x2="131.40" y2="1016.40" stroke="#000" stroke-width="2.2" stroke-linecap="butt"/>
<line x1="176.33" y1="1009.40" x2="176.33" y2="1016.40" stroke="#000" stroke-width="2.2" stroke-linecap="butt"/>
<line x1="221.26" y1="1009.40" x2="221.26" y2="1016.40" stroke="#000" stroke-width="2.2" stroke-linecap="butt"/>
<line x1="266.19" y1="1009.40" x2="266.19" y2="1016.40" stroke="#000" stroke-width="2.2" stroke-linecap="butt"/>
<line x1="311.12" y1="1009.40" x2="311.12" y2="1016.40" stroke="#000" stroke-width="2.2" stroke-linecap="butt"/>
<line x1="356.05" y1="1009.40" x2="356.05" y2="1016.40" stroke="#000" stroke-width="2.2" stroke-linecap="butt"/>
<line x1="400.98" y1="1009.40" x2="400.98" y2="1016.40" stroke="#000" stroke-width="2.2" stroke-linecap="butt"/>
<line x1="445.91" y1="1009.40" x2="445.91" y2="1016.40" stroke="#000" stroke-width="2.2" stroke-linecap="butt"/>
<line x1="490.84" y1="1009.40" x2="490.84" y2="1016.40" stroke="#000" stroke-width="2.2" stroke-linecap="butt"/>
<line x1="535.77" y1="1009.40" x2="535.77" y2="1016.40" stroke="#000" stroke-width="2.2" stroke-linecap="butt"/>
<line x1="580.70" y1="1009.40" x2="580.70" y2="1016.40" stroke="#000" stroke-width="2.2" stroke-linecap="butt"/>
<line x1="625.63" y1="1009.40" x2="625.63" y2="1016.40" stroke="#000" stroke-width="2.2" stroke-linecap="butt"/>
<line x1="670.56" y1="1009.40" x2="670.56" y2="1016.40" stroke="#000" stroke-width="2.2" stroke-linecap="butt"/>
<text transform="translate(32.5,820.3) rotate(-90)" font-size="21.9" text-anchor="middle">GFP fluorescence</text>
<text transform="translate(57.8,820.3) rotate(-90)" font-size="21.9" text-anchor="middle">(fold induction)</text>
<text x="684.5" y="618.3" font-size="21.5" text-anchor="end"><tspan font-style="italic">atfs-1(lf);hsp-6p</tspan>::GFP</text>
<text transform="translate(137.20,1035.90) rotate(-45)" font-size="18.5" text-anchor="end" font-style="italic">EV</text>
<text transform="translate(182.13,1035.90) rotate(-45)" font-size="18.5" text-anchor="end" font-style="italic">letm-1</text>
<text transform="translate(227.06,1035.90) rotate(-45)" font-size="18.5" text-anchor="end" font-style="italic">F15D3.6</text>
<text transform="translate(271.99,1035.90) rotate(-45)" font-size="18.5" text-anchor="end" font-style="italic">pdhb-1</text>
<text transform="translate(316.92,1035.90) rotate(-45)" font-size="18.5" text-anchor="end" font-style="italic">F02A9.4</text>
<text transform="translate(361.85,1035.90) rotate(-45)" font-size="18.5" text-anchor="end" font-style="italic">wah-1</text>
<text transform="translate(406.78,1035.90) rotate(-45)" font-size="18.5" text-anchor="end" font-style="italic">dlst-1</text>
<text transform="translate(451.71,1035.90) rotate(-45)" font-size="18.5" text-anchor="end" font-style="italic">tomm-22</text>
<text transform="translate(496.64,1035.90) rotate(-45)" font-size="18.5" text-anchor="end" font-style="italic">dnj-21</text>
<text transform="translate(541.57,1035.90) rotate(-45)" font-size="18.5" text-anchor="end" font-style="italic">lpd-9</text>
<text transform="translate(586.50,1035.90) rotate(-45)" font-size="18.5" text-anchor="end" font-style="italic">cco-1</text>
<text transform="translate(631.43,1035.90) rotate(-45)" font-size="18.5" text-anchor="end" font-style="italic">tin-44</text>
<text transform="translate(676.36,1035.90) rotate(-45)" font-size="18.5" text-anchor="end" font-style="italic">timm-17B.1</text>
<circle cx="131.80" cy="974.10" r="5.9"/>
<circle cx="123.70" cy="980.90" r="5.9"/>
<circle cx="121.20" cy="988.40" r="5.9"/>
<circle cx="131.10" cy="989.60" r="5.9"/>
<circle cx="141.10" cy="989.60" r="5.9"/>
<circle cx="136.10" cy="985.90" r="5.9"/>
<circle cx="182.20" cy="979.70" r="5.9"/>
<circle cx="168.50" cy="985.90" r="5.9"/>
<circle cx="186.50" cy="987.20" r="5.9"/>
<circle cx="166.60" cy="993.40" r="5.9"/>
<circle cx="182.20" cy="997.10" r="5.9"/>
<circle cx="175.30" cy="989.60" r="5.9"/>
<circle cx="224.50" cy="961.00" r="5.9"/>
<circle cx="217.10" cy="969.70" r="5.9"/>
<circle cx="212.10" cy="974.70" r="5.9"/>
<circle cx="230.70" cy="977.20" r="5.9"/>
<circle cx="212.10" cy="979.70" r="5.9"/>
<circle cx="224.50" cy="983.40" r="5.9"/>
<circle cx="217.10" cy="979.70" r="5.9"/>
<circle cx="266.20" cy="965.00" r="5.9"/>
<circle cx="258.10" cy="977.80" r="5.9"/>
<circle cx="256.90" cy="987.20" r="5.9"/>
<circle cx="266.20" cy="989.00" r="5.9"/>
<circle cx="275.60" cy="987.20" r="5.9"/>
<circle cx="270.60" cy="979.70" r="5.9"/>
<circle cx="316.10" cy="959.70" r="5.9"/>
<circle cx="306.20" cy="962.80" r="5.9"/>
<circle cx="300.60" cy="967.80" r="5.9"/>
<circle cx="321.70" cy="967.80" r="5.9"/>
<circle cx="311.10" cy="967.20" r="5.9"/>
<circle cx="301.20" cy="982.70" r="5.9"/>
<circle cx="311.10" cy="983.30" r="5.9"/>
<circle cx="321.10" cy="985.20" r="5.9"/>
<circle cx="346.60" cy="969.60" r="5.9"/>
<circle cx="356.00" cy="974.00" r="5.9"/>
<circle cx="365.90" cy="974.00" r="5.9"/>
<circle cx="346.00" cy="992.00" r="5.9"/>
<circle cx="356.00" cy="990.80" r="5.9"/>
<circle cx="365.90" cy="993.30" r="5.9"/>
<circle cx="391.40" cy="953.50" r="5.9"/>
<circle cx="400.80" cy="957.80" r="5.9"/>
<circle cx="410.70" cy="957.80" r="5.9"/>
<circle cx="391.40" cy="971.50" r="5.9"/>
<circle cx="400.80" cy="969.60" r="5.9"/>
<circle cx="410.70" cy="974.00" r="5.9"/>
<circle cx="394.50" cy="964.00" r="5.9"/>
<circle cx="446.20" cy="958.40" r="5.9"/>
<circle cx="436.30" cy="967.80" r="5.9"/>
<circle cx="436.30" cy="977.10" r="5.9"/>
<circle cx="446.90" cy="978.40" r="5.9"/>
<circle cx="455.60" cy="974.60" r="5.9"/>
<circle cx="451.00" cy="968.00" r="5.9"/>
<circle cx="490.90" cy="941.20" r="5.9"/>
<circle cx="495.50" cy="953.20" r="5.9"/>
<circle cx="490.50" cy="959.60" r="5.9"/>
<circle cx="481.20" cy="967.10" r="5.9"/>
<circle cx="499.90" cy="968.40" r="5.9"/>
<circle cx="490.50" cy="973.30" r="5.9"/>
<circle cx="495.50" cy="978.90" r="5.9"/>
<circle cx="486.20" cy="983.90" r="5.9"/>
<circle cx="536.60" cy="965.90" r="5.9"/>
<circle cx="531.00" cy="968.00" r="5.9"/>
<circle cx="527.30" cy="974.60" r="5.9"/>
<circle cx="526.00" cy="982.00" r="5.9"/>
<circle cx="537.20" cy="984.50" r="5.9"/>
<circle cx="545.90" cy="980.80" r="5.9"/>
<circle cx="542.00" cy="973.00" r="5.9"/>
<circle cx="582.70" cy="923.50" r="5.9"/>
<circle cx="578.30" cy="930.40" r="5.9"/>
<circle cx="575.80" cy="948.40" r="5.9"/>
<circle cx="584.50" cy="948.40" r="5.9"/>
<circle cx="575.80" cy="957.20" r="5.9"/>
<circle cx="585.10" cy="958.40" r="5.9"/>
<circle cx="580.70" cy="961.00" r="5.9"/>
<circle cx="571.50" cy="964.60" r="5.9"/>
<circle cx="590.10" cy="966.50" r="5.9"/>
<circle cx="622.50" cy="944.70" r="5.9"/>
<circle cx="628.70" cy="942.80" r="5.9"/>
<circle cx="635.60" cy="952.80" r="5.9"/>
<circle cx="616.30" cy="957.20" r="5.9"/>
<circle cx="625.60" cy="959.00" r="5.9"/>
<circle cx="635.60" cy="960.90" r="5.9"/>
<circle cx="628.10" cy="966.50" r="5.9"/>
<circle cx="616.30" cy="970.80" r="5.9"/>
<circle cx="670.20" cy="950.30" r="5.9"/>
<circle cx="663.30" cy="958.40" r="5.9"/>
<circle cx="677.00" cy="959.70" r="5.9"/>
<circle cx="660.80" cy="965.90" r="5.9"/>
<circle cx="670.20" cy="969.00" r="5.9"/>
<circle cx="679.50" cy="967.80" r="5.9"/>
<line x1="131.40" y1="980.60" x2="131.40" y2="985.00" stroke="#ff0000" stroke-width="2.85"/>
<line x1="124.10" y1="980.60" x2="138.70" y2="980.60" stroke="#ff0000" stroke-width="3.0"/>
<line x1="116.40" y1="985.00" x2="146.40" y2="985.00" stroke="#ff0000" stroke-width="3.0"/>
<line x1="176.33" y1="983.20" x2="176.33" y2="988.10" stroke="#ff0000" stroke-width="2.85"/>
<line x1="169.03" y1="983.20" x2="183.63" y2="983.20" stroke="#ff0000" stroke-width="3.0"/>
<line x1="161.33" y1="988.10" x2="191.33" y2="988.10" stroke="#ff0000" stroke-width="3.0"/>
<line x1="221.26" y1="968.90" x2="221.26" y2="975.10" stroke="#ff0000" stroke-width="2.85"/>
<line x1="213.96" y1="968.90" x2="228.56" y2="968.90" stroke="#ff0000" stroke-width="3.0"/>
<line x1="206.26" y1="975.10" x2="236.26" y2="975.10" stroke="#ff0000" stroke-width="3.0"/>
<line x1="266.19" y1="975.30" x2="266.19" y2="982.40" stroke="#ff0000" stroke-width="2.85"/>
<line x1="258.89" y1="975.30" x2="273.49" y2="975.30" stroke="#ff0000" stroke-width="3.0"/>
<line x1="251.19" y1="982.40" x2="281.19" y2="982.40" stroke="#ff0000" stroke-width="3.0"/>
<line x1="311.12" y1="965.30" x2="311.12" y2="973.40" stroke="#ff0000" stroke-width="2.85"/>
<line x1="303.82" y1="965.30" x2="318.42" y2="965.30" stroke="#ff0000" stroke-width="3.0"/>
<line x1="296.12" y1="973.40" x2="326.12" y2="973.40" stroke="#ff0000" stroke-width="3.0"/>
<line x1="356.05" y1="974.60" x2="356.05" y2="981.80" stroke="#ff0000" stroke-width="2.85"/>
<line x1="348.75" y1="974.60" x2="363.35" y2="974.60" stroke="#ff0000" stroke-width="3.0"/>
<line x1="341.05" y1="981.80" x2="371.05" y2="981.80" stroke="#ff0000" stroke-width="3.0"/>
<line x1="400.98" y1="957.80" x2="400.98" y2="963.70" stroke="#ff0000" stroke-width="2.85"/>
<line x1="393.68" y1="957.80" x2="408.28" y2="957.80" stroke="#ff0000" stroke-width="3.0"/>
<line x1="385.98" y1="963.70" x2="415.98" y2="963.70" stroke="#ff0000" stroke-width="3.0"/>
<line x1="445.91" y1="964.30" x2="445.91" y2="971.10" stroke="#ff0000" stroke-width="2.85"/>
<line x1="438.61" y1="964.30" x2="453.21" y2="964.30" stroke="#ff0000" stroke-width="3.0"/>
<line x1="430.91" y1="971.10" x2="460.91" y2="971.10" stroke="#ff0000" stroke-width="3.0"/>
<line x1="490.84" y1="954.40" x2="490.84" y2="966.50" stroke="#ff0000" stroke-width="2.85"/>
<line x1="483.54" y1="954.40" x2="498.14" y2="954.40" stroke="#ff0000" stroke-width="3.0"/>
<line x1="475.84" y1="966.50" x2="505.84" y2="966.50" stroke="#ff0000" stroke-width="3.0"/>
<line x1="535.77" y1="971.50" x2="535.77" y2="977.30" stroke="#ff0000" stroke-width="2.85"/>
<line x1="528.47" y1="971.50" x2="543.07" y2="971.50" stroke="#ff0000" stroke-width="3.0"/>
<line x1="520.77" y1="977.30" x2="550.77" y2="977.30" stroke="#ff0000" stroke-width="3.0"/>
<line x1="580.70" y1="937.50" x2="580.70" y2="951.50" stroke="#ff0000" stroke-width="2.85"/>
<line x1="573.40" y1="937.50" x2="588.00" y2="937.50" stroke="#ff0000" stroke-width="3.0"/>
<line x1="565.70" y1="951.50" x2="595.70" y2="951.50" stroke="#ff0000" stroke-width="3.0"/>
<line x1="625.63" y1="948.70" x2="625.63" y2="956.90" stroke="#ff0000" stroke-width="2.85"/>
<line x1="618.33" y1="948.70" x2="632.93" y2="948.70" stroke="#ff0000" stroke-width="3.0"/>
<line x1="610.63" y1="956.90" x2="640.63" y2="956.90" stroke="#ff0000" stroke-width="3.0"/>
<line x1="670.56" y1="956.60" x2="670.56" y2="961.90" stroke="#ff0000" stroke-width="2.85"/>
<line x1="663.26" y1="956.60" x2="677.86" y2="956.60" stroke="#ff0000" stroke-width="3.0"/>
<line x1="655.56" y1="961.90" x2="685.56" y2="961.90" stroke="#ff0000" stroke-width="3.0"/>
<text x="176.90" y="957.50" font-size="21.7" text-anchor="middle" font-weight="normal" font-style="normal" >ns</text>
<text x="221.40" y="936.72" font-size="19.8" text-anchor="middle" stroke="#000" stroke-width="0.35">***</text>
<text x="265.30" y="943.00" font-size="21.7" text-anchor="middle" font-weight="normal" font-style="normal" >ns</text>
<text x="311.60" y="940.10" font-size="21.7" text-anchor="middle" font-weight="normal" font-style="normal" >ns</text>
<text x="357.00" y="949.50" font-size="21.7" text-anchor="middle" font-weight="normal" font-style="normal" >ns</text>
<text x="400.60" y="929.12" font-size="19.8" text-anchor="middle" stroke="#000" stroke-width="0.35">****</text>
<text x="445.30" y="936.02" font-size="19.8" text-anchor="middle" stroke="#000" stroke-width="0.35">****</text>
<text x="491.50" y="916.62" font-size="19.8" text-anchor="middle" stroke="#000" stroke-width="0.35">***</text>
<text x="535.00" y="945.30" font-size="21.7" text-anchor="middle" font-weight="normal" font-style="normal" >ns</text>
<text x="581.70" y="899.82" font-size="19.8" text-anchor="middle" stroke="#000" stroke-width="0.35">****</text>
<text x="626.30" y="921.82" font-size="19.8" text-anchor="middle" stroke="#000" stroke-width="0.35">****</text>
<text x="673.00" y="928.12" font-size="19.8" text-anchor="middle" stroke="#000" stroke-width="0.35">****</text>
<text x="791.30" y="586.80" font-size="54" text-anchor="start" font-weight="normal" font-style="normal" >D</text>
<line x1="906.50" y1="609.50" x2="906.50" y2="1008.60" stroke="#000" stroke-width="2.2" stroke-linecap="butt"/>
<line x1="905.40" y1="1007.50" x2="1492.80" y2="1007.50" stroke="#000" stroke-width="2.2" stroke-linecap="butt"/>
<line x1="899.70" y1="1007.50" x2="906.50" y2="1007.50" stroke="#000" stroke-width="2.2" stroke-linecap="butt"/>
<text x="897.20" y="1013.91" font-size="17.8" text-anchor="end" font-weight="normal" font-style="normal" >0</text>
<line x1="899.70" y1="928.10" x2="906.50" y2="928.10" stroke="#000" stroke-width="2.2" stroke-linecap="butt"/>
<text x="897.20" y="934.51" font-size="17.8" text-anchor="end" font-weight="normal" font-style="normal" >20</text>
<line x1="899.70" y1="848.70" x2="906.50" y2="848.70" stroke="#000" stroke-width="2.2" stroke-linecap="butt"/>
<text x="897.20" y="855.11" font-size="17.8" text-anchor="end" font-weight="normal" font-style="normal" >40</text>
<line x1="899.70" y1="769.30" x2="906.50" y2="769.30" stroke="#000" stroke-width="2.2" stroke-linecap="butt"/>
<text x="897.20" y="775.71" font-size="17.8" text-anchor="end" font-weight="normal" font-style="normal" >60</text>
<line x1="899.70" y1="689.90" x2="906.50" y2="689.90" stroke="#000" stroke-width="2.2" stroke-linecap="butt"/>
<text x="897.20" y="696.31" font-size="17.8" text-anchor="end" font-weight="normal" font-style="normal" >80</text>
<line x1="899.70" y1="610.50" x2="906.50" y2="610.50" stroke="#000" stroke-width="2.2" stroke-linecap="butt"/>
<text x="897.20" y="616.91" font-size="17.8" text-anchor="end" font-weight="normal" font-style="normal" >100</text>
<line x1="929.00" y1="1007.50" x2="929.00" y2="1014.50" stroke="#000" stroke-width="2.2" stroke-linecap="butt"/>
<line x1="973.97" y1="1007.50" x2="973.97" y2="1014.50" stroke="#000" stroke-width="2.2" stroke-linecap="butt"/>
<line x1="1018.94" y1="1007.50" x2="1018.94" y2="1014.50" stroke="#000" stroke-width="2.2" stroke-linecap="butt"/>
<line x1="1063.91" y1="1007.50" x2="1063.91" y2="1014.50" stroke="#000" stroke-width="2.2" stroke-linecap="butt"/>
<line x1="1108.88" y1="1007.50" x2="1108.88" y2="1014.50" stroke="#000" stroke-width="2.2" stroke-linecap="butt"/>
<line x1="1153.85" y1="1007.50" x2="1153.85" y2="1014.50" stroke="#000" stroke-width="2.2" stroke-linecap="butt"/>
<line x1="1198.82" y1="1007.50" x2="1198.82" y2="1014.50" stroke="#000" stroke-width="2.2" stroke-linecap="butt"/>
<line x1="1243.79" y1="1007.50" x2="1243.79" y2="1014.50" stroke="#000" stroke-width="2.2" stroke-linecap="butt"/>
<line x1="1288.76" y1="1007.50" x2="1288.76" y2="1014.50" stroke="#000" stroke-width="2.2" stroke-linecap="butt"/>
<line x1="1333.73" y1="1007.50" x2="1333.73" y2="1014.50" stroke="#000" stroke-width="2.2" stroke-linecap="butt"/>
<line x1="1378.70" y1="1007.50" x2="1378.70" y2="1014.50" stroke="#000" stroke-width="2.2" stroke-linecap="butt"/>
<line x1="1423.67" y1="1007.50" x2="1423.67" y2="1014.50" stroke="#000" stroke-width="2.2" stroke-linecap="butt"/>
<line x1="1468.64" y1="1007.50" x2="1468.64" y2="1014.50" stroke="#000" stroke-width="2.2" stroke-linecap="butt"/>
<text transform="translate(851,809) rotate(-90)" font-size="21.5" text-anchor="middle">Aggregates per HPF</text>
<line x1="930.00" y1="641.75" x2="1235.75" y2="641.75" stroke="#000" stroke-width="3.3" stroke-linecap="square"/>
<line x1="930.00" y1="641.75" x2="930.00" y2="663.60" stroke="#000" stroke-width="3.3" stroke-linecap="butt"/>
<line x1="1235.75" y1="641.75" x2="1235.75" y2="662.50" stroke="#000" stroke-width="3.3" stroke-linecap="butt"/>
<line x1="971.75" y1="662.50" x2="1465.75" y2="662.50" stroke="#000" stroke-width="3.3" stroke-linecap="butt"/>
<text x="1073.00" y="628.75" font-size="21.5" text-anchor="middle" font-weight="normal" font-style="normal" >ns</text>
<text x="1469.5" y="626.3" font-size="21.3" text-anchor="end"><tspan font-style="italic">atfs-1(lf);</tspan>UCR-11::GFP</text>
<text transform="translate(934.80,1030.50) rotate(-45)" font-size="18.5" text-anchor="end" font-style="italic">EV</text>
<text transform="translate(979.77,1030.50) rotate(-45)" font-size="18.5" text-anchor="end" font-style="italic">letm-1</text>
<text transform="translate(1024.74,1030.50) rotate(-45)" font-size="18.5" text-anchor="end" font-style="italic">F15D3.6</text>
<text transform="translate(1069.71,1030.50) rotate(-45)" font-size="18.5" text-anchor="end" font-style="italic">pdhb-1</text>
<text transform="translate(1114.68,1030.50) rotate(-45)" font-size="18.5" text-anchor="end" font-style="italic">F02A9.4</text>
<text transform="translate(1159.65,1030.50) rotate(-45)" font-size="18.5" text-anchor="end" font-style="italic">wah-1</text>
<text transform="translate(1204.62,1030.50) rotate(-45)" font-size="18.5" text-anchor="end" font-style="italic">dlst-1</text>
<text transform="translate(1249.59,1030.50) rotate(-45)" font-size="18.5" text-anchor="end" font-style="italic">tomm-22</text>
<text transform="translate(1294.56,1030.50) rotate(-45)" font-size="18.5" text-anchor="end" font-style="italic">dnj-21</text>
<text transform="translate(1339.53,1030.50) rotate(-45)" font-size="18.5" text-anchor="end" font-style="italic">lpd-9</text>
<text transform="translate(1384.50,1030.50) rotate(-45)" font-size="18.5" text-anchor="end" font-style="italic">cco-1</text>
<text transform="translate(1429.47,1030.50) rotate(-45)" font-size="18.5" text-anchor="end" font-style="italic">tin-44</text>
<text transform="translate(1474.44,1030.50) rotate(-45)" font-size="18.5" text-anchor="end" font-style="italic">timm-17B.1</text>
<circle cx="929.00" cy="892.77" r="4.6"/>
<circle cx="929.00" cy="916.59" r="4.6"/>
<circle cx="925.20" cy="924.13" r="4.6"/>
<circle cx="932.80" cy="924.13" r="4.6"/>
<circle cx="931.60" cy="932.47" r="4.6"/>
<circle cx="927.70" cy="940.01" r="4.6"/>
<circle cx="931.60" cy="944.38" r="4.6"/>
<circle cx="925.20" cy="947.95" r="4.6"/>
<circle cx="918.20" cy="955.89" r="4.6"/>
<circle cx="939.80" cy="955.89" r="4.6"/>
<circle cx="924.00" cy="955.89" r="4.6"/>
<circle cx="934.00" cy="955.89" r="4.6"/>
<circle cx="929.00" cy="955.89" r="4.6"/>
<circle cx="929.00" cy="951.92" r="4.6"/>
<circle cx="925.20" cy="959.86" r="4.6"/>
<circle cx="932.00" cy="959.86" r="4.6"/>
<circle cx="925.20" cy="963.83" r="4.6"/>
<circle cx="932.20" cy="967.80" r="4.6"/>
<circle cx="925.20" cy="976.14" r="4.6"/>
<circle cx="932.20" cy="976.14" r="4.6"/>
<circle cx="929.00" cy="987.65" r="4.6"/>
<circle cx="973.97" cy="871.73" r="4.6"/>
<circle cx="971.47" cy="908.25" r="4.6"/>
<circle cx="976.77" cy="912.62" r="4.6"/>
<circle cx="971.47" cy="919.76" r="4.6"/>
<circle cx="976.77" cy="924.13" r="4.6"/>
<circle cx="971.47" cy="936.04" r="4.6"/>
<circle cx="976.77" cy="936.04" r="4.6"/>
<circle cx="966.57" cy="951.92" r="4.6"/>
<circle cx="981.87" cy="951.92" r="4.6"/>
<circle cx="973.97" cy="951.92" r="4.6"/>
<circle cx="966.57" cy="955.89" r="4.6"/>
<circle cx="975.97" cy="955.89" r="4.6"/>
<circle cx="976.77" cy="959.86" r="4.6"/>
<circle cx="966.57" cy="963.04" r="4.6"/>
<circle cx="981.87" cy="967.01" r="4.6"/>
<circle cx="969.97" cy="970.98" r="4.6"/>
<circle cx="973.97" cy="965.82" r="4.6"/>
<circle cx="963.47" cy="975.74" r="4.6"/>
<circle cx="973.57" cy="975.74" r="4.6"/>
<circle cx="984.37" cy="980.11" r="4.6"/>
<circle cx="1018.94" cy="888.80" r="4.6"/>
<circle cx="1018.94" cy="904.28" r="4.6"/>
<circle cx="1018.94" cy="931.67" r="4.6"/>
<circle cx="1018.94" cy="944.38" r="4.6"/>
<circle cx="1008.54" cy="948.35" r="4.6"/>
<circle cx="1029.54" cy="948.35" r="4.6"/>
<circle cx="1024.44" cy="951.92" r="4.6"/>
<circle cx="1013.64" cy="953.51" r="4.6"/>
<circle cx="1018.94" cy="957.88" r="4.6"/>
<circle cx="1018.94" cy="964.23" r="4.6"/>
<circle cx="1018.94" cy="970.98" r="4.6"/>
<circle cx="1011.04" cy="975.74" r="4.6"/>
<circle cx="1028.84" cy="975.74" r="4.6"/>
<circle cx="1016.14" cy="981.30" r="4.6"/>
<circle cx="1023.14" cy="982.89" r="4.6"/>
<circle cx="1014.84" cy="991.62" r="4.6"/>
<circle cx="1063.91" cy="923.34" r="4.6"/>
<circle cx="1058.61" cy="927.31" r="4.6"/>
<circle cx="1069.41" cy="927.31" r="4.6"/>
<circle cx="1056.61" cy="935.64" r="4.6"/>
<circle cx="1071.91" cy="935.64" r="4.6"/>
<circle cx="1063.91" cy="940.01" r="4.6"/>
<circle cx="1053.41" cy="943.98" r="4.6"/>
<circle cx="1075.01" cy="943.98" r="4.6"/>
<circle cx="1069.41" cy="943.98" r="4.6"/>
<circle cx="1063.91" cy="949.93" r="4.6"/>
<circle cx="1058.91" cy="949.93" r="4.6"/>
<circle cx="1052.81" cy="955.89" r="4.6"/>
<circle cx="1074.41" cy="955.89" r="4.6"/>
<circle cx="1063.91" cy="955.10" r="4.6"/>
<circle cx="1058.11" cy="959.86" r="4.6"/>
<circle cx="1069.41" cy="959.86" r="4.6"/>
<circle cx="1061.11" cy="964.23" r="4.6"/>
<circle cx="1066.81" cy="964.23" r="4.6"/>
<circle cx="1058.61" cy="979.31" r="4.6"/>
<circle cx="1063.61" cy="975.74" r="4.6"/>
<circle cx="1069.41" cy="976.53" r="4.6"/>
<circle cx="1063.91" cy="947.95" r="4.6"/>
<circle cx="1059.91" cy="947.95" r="4.6"/>
<circle cx="1067.91" cy="947.95" r="4.6"/>
<circle cx="1057.91" cy="951.92" r="4.6"/>
<circle cx="1069.91" cy="951.92" r="4.6"/>
<circle cx="1060.91" cy="938.02" r="4.6"/>
<circle cx="1066.91" cy="938.02" r="4.6"/>
<circle cx="1063.91" cy="960.65" r="4.6"/>
<circle cx="1108.88" cy="884.43" r="4.6"/>
<circle cx="1108.88" cy="896.74" r="4.6"/>
<circle cx="1108.88" cy="916.19" r="4.6"/>
<circle cx="1108.88" cy="928.50" r="4.6"/>
<circle cx="1116.48" cy="931.28" r="4.6"/>
<circle cx="1098.68" cy="936.04" r="4.6"/>
<circle cx="1119.58" cy="936.83" r="4.6"/>
<circle cx="1109.48" cy="940.01" r="4.6"/>
<circle cx="1115.88" cy="951.92" r="4.6"/>
<circle cx="1102.48" cy="955.89" r="4.6"/>
<circle cx="1109.48" cy="959.07" r="4.6"/>
<circle cx="1112.68" cy="967.80" r="4.6"/>
<circle cx="1104.38" cy="970.98" r="4.6"/>
<circle cx="1115.28" cy="976.14" r="4.6"/>
<circle cx="1108.88" cy="974.95" r="4.6"/>
<circle cx="1102.48" cy="982.49" r="4.6"/>
<circle cx="1157.25" cy="876.89" r="4.6"/>
<circle cx="1150.25" cy="880.46" r="4.6"/>
<circle cx="1154.15" cy="892.37" r="4.6"/>
<circle cx="1154.15" cy="915.00" r="4.6"/>
<circle cx="1143.25" cy="927.31" r="4.6"/>
<circle cx="1164.25" cy="927.31" r="4.6"/>
<circle cx="1150.85" cy="932.07" r="4.6"/>
<circle cx="1161.15" cy="936.04" r="4.6"/>
<circle cx="1148.35" cy="945.97" r="4.6"/>
<circle cx="1156.05" cy="947.95" r="4.6"/>
<circle cx="1143.25" cy="951.92" r="4.6"/>
<circle cx="1164.25" cy="951.92" r="4.6"/>
<circle cx="1150.85" cy="955.10" r="4.6"/>
<circle cx="1143.25" cy="959.86" r="4.6"/>
<circle cx="1164.25" cy="959.86" r="4.6"/>
<circle cx="1155.35" cy="959.86" r="4.6"/>
<circle cx="1149.55" cy="963.83" r="4.6"/>
<circle cx="1164.25" cy="967.80" r="4.6"/>
<circle cx="1143.25" cy="971.77" r="4.6"/>
<circle cx="1157.25" cy="971.77" r="4.6"/>
<circle cx="1153.85" cy="943.98" r="4.6"/>
<circle cx="1198.82" cy="904.28" r="4.6"/>
<circle cx="1206.82" cy="943.98" r="4.6"/>
<circle cx="1191.52" cy="947.95" r="4.6"/>
<circle cx="1197.32" cy="945.97" r="4.6"/>
<circle cx="1209.42" cy="951.92" r="4.6"/>
<circle cx="1188.42" cy="955.89" r="4.6"/>
<circle cx="1204.32" cy="961.85" r="4.6"/>
<circle cx="1198.82" cy="957.88" r="4.6"/>
<circle cx="1192.82" cy="967.80" r="4.6"/>
<circle cx="1206.82" cy="971.77" r="4.6"/>
<circle cx="1190.92" cy="976.14" r="4.6"/>
<circle cx="1201.12" cy="976.14" r="4.6"/>
<circle cx="1196.02" cy="986.86" r="4.6"/>
<circle cx="1201.12" cy="990.83" r="4.6"/>
<circle cx="1206.82" cy="991.62" r="4.6"/>
<circle cx="1190.92" cy="995.19" r="4.6"/>
<circle cx="1243.79" cy="820.51" r="4.6"/>
<circle cx="1243.79" cy="844.33" r="4.6"/>
<circle cx="1243.79" cy="852.67" r="4.6"/>
<circle cx="1240.59" cy="879.67" r="4.6"/>
<circle cx="1246.99" cy="879.67" r="4.6"/>
<circle cx="1243.79" cy="883.24" r="4.6"/>
<circle cx="1243.79" cy="907.46" r="4.6"/>
<circle cx="1243.79" cy="931.67" r="4.6"/>
<circle cx="1235.49" cy="946.76" r="4.6"/>
<circle cx="1231.69" cy="955.10" r="4.6"/>
<circle cx="1255.89" cy="955.10" r="4.6"/>
<circle cx="1238.09" cy="951.92" r="4.6"/>
<circle cx="1244.39" cy="951.92" r="4.6"/>
<circle cx="1251.39" cy="951.92" r="4.6"/>
<circle cx="1236.89" cy="959.86" r="4.6"/>
<circle cx="1243.79" cy="959.86" r="4.6"/>
<circle cx="1250.69" cy="959.86" r="4.6"/>
<circle cx="1243.79" cy="964.23" r="4.6"/>
<circle cx="1238.09" cy="971.77" r="4.6"/>
<circle cx="1248.89" cy="971.77" r="4.6"/>
<circle cx="1232.99" cy="976.14" r="4.6"/>
<circle cx="1243.79" cy="976.14" r="4.6"/>
<circle cx="1253.99" cy="979.31" r="4.6"/>
<circle cx="1240.79" cy="953.90" r="4.6"/>
<circle cx="1246.79" cy="953.90" r="4.6"/>
<circle cx="1234.29" cy="957.08" r="4.6"/>
<circle cx="1253.29" cy="957.08" r="4.6"/>
<circle cx="1288.76" cy="892.77" r="4.6"/>
<circle cx="1288.76" cy="912.62" r="4.6"/>
<circle cx="1291.06" cy="931.67" r="4.6"/>
<circle cx="1278.36" cy="943.19" r="4.6"/>
<circle cx="1291.66" cy="943.19" r="4.6"/>
<circle cx="1299.36" cy="939.22" r="4.6"/>
<circle cx="1282.76" cy="949.93" r="4.6"/>
<circle cx="1299.36" cy="950.73" r="4.6"/>
<circle cx="1289.16" cy="951.92" r="4.6"/>
<circle cx="1281.36" cy="964.23" r="4.6"/>
<circle cx="1294.76" cy="963.43" r="4.6"/>
<circle cx="1290.46" cy="967.80" r="4.6"/>
<circle cx="1278.36" cy="976.14" r="4.6"/>
<circle cx="1286.66" cy="976.14" r="4.6"/>
<circle cx="1299.36" cy="976.14" r="4.6"/>
<circle cx="1290.46" cy="983.68" r="4.6"/>
<circle cx="1295.56" cy="983.68" r="4.6"/>
<circle cx="1282.76" cy="991.62" r="4.6"/>
<circle cx="1288.76" cy="957.88" r="4.6"/>
<circle cx="1336.23" cy="876.49" r="4.6"/>
<circle cx="1331.23" cy="880.46" r="4.6"/>
<circle cx="1335.03" cy="884.43" r="4.6"/>
<circle cx="1336.23" cy="892.37" r="4.6"/>
<circle cx="1331.23" cy="896.34" r="4.6"/>
<circle cx="1333.73" cy="918.17" r="4.6"/>
<circle cx="1338.23" cy="931.28" r="4.6"/>
<circle cx="1325.43" cy="940.01" r="4.6"/>
<circle cx="1342.63" cy="940.01" r="4.6"/>
<circle cx="1333.73" cy="940.01" r="4.6"/>
<circle cx="1333.73" cy="947.95" r="4.6"/>
<circle cx="1337.53" cy="947.95" r="4.6"/>
<circle cx="1322.93" cy="951.92" r="4.6"/>
<circle cx="1331.23" cy="951.92" r="4.6"/>
<circle cx="1343.93" cy="955.89" r="4.6"/>
<circle cx="1327.33" cy="955.89" r="4.6"/>
<circle cx="1333.73" cy="958.27" r="4.6"/>
<circle cx="1337.53" cy="960.65" r="4.6"/>
<circle cx="1329.93" cy="971.77" r="4.6"/>
<circle cx="1328.73" cy="945.97" r="4.6"/>
<circle cx="1338.73" cy="945.97" r="4.6"/>
<circle cx="1384.70" cy="899.52" r="4.6"/>
<circle cx="1372.60" cy="903.49" r="4.6"/>
<circle cx="1377.70" cy="907.46" r="4.6"/>
<circle cx="1384.70" cy="911.03" r="4.6"/>
<circle cx="1384.70" cy="923.34" r="4.6"/>
<circle cx="1372.60" cy="931.67" r="4.6"/>
<circle cx="1389.10" cy="938.82" r="4.6"/>
<circle cx="1380.20" cy="940.80" r="4.6"/>
<circle cx="1370.00" cy="947.16" r="4.6"/>
<circle cx="1384.70" cy="947.16" r="4.6"/>
<circle cx="1367.50" cy="951.52" r="4.6"/>
<circle cx="1389.80" cy="951.52" r="4.6"/>
<circle cx="1377.70" cy="948.35" r="4.6"/>
<circle cx="1375.10" cy="955.49" r="4.6"/>
<circle cx="1380.90" cy="959.46" r="4.6"/>
<circle cx="1385.30" cy="959.86" r="4.6"/>
<circle cx="1372.00" cy="963.83" r="4.6"/>
<circle cx="1380.90" cy="971.37" r="4.6"/>
<circle cx="1376.40" cy="975.34" r="4.6"/>
<circle cx="1423.67" cy="899.52" r="4.6"/>
<circle cx="1423.67" cy="911.82" r="4.6"/>
<circle cx="1417.27" cy="922.54" r="4.6"/>
<circle cx="1426.17" cy="926.51" r="4.6"/>
<circle cx="1417.97" cy="934.85" r="4.6"/>
<circle cx="1426.17" cy="938.82" r="4.6"/>
<circle cx="1412.87" cy="943.19" r="4.6"/>
<circle cx="1434.47" cy="943.19" r="4.6"/>
<circle cx="1423.67" cy="945.57" r="4.6"/>
<circle cx="1418.57" cy="950.73" r="4.6"/>
<circle cx="1428.77" cy="951.92" r="4.6"/>
<circle cx="1417.27" cy="959.07" r="4.6"/>
<circle cx="1417.27" cy="970.58" r="4.6"/>
<circle cx="1433.87" cy="967.40" r="4.6"/>
<circle cx="1428.77" cy="967.40" r="4.6"/>
<circle cx="1424.97" cy="975.34" r="4.6"/>
<circle cx="1423.67" cy="986.86" r="4.6"/>
<circle cx="1428.17" cy="986.86" r="4.6"/>
<circle cx="1419.17" cy="990.83" r="4.6"/>
<circle cx="1468.64" cy="867.76" r="4.6"/>
<circle cx="1466.14" cy="915.40" r="4.6"/>
<circle cx="1471.14" cy="915.40" r="4.6"/>
<circle cx="1468.64" cy="926.91" r="4.6"/>
<circle cx="1468.64" cy="935.25" r="4.6"/>
<circle cx="1468.64" cy="939.22" r="4.6"/>
<circle cx="1478.14" cy="950.73" r="4.6"/>
<circle cx="1459.14" cy="955.10" r="4.6"/>
<circle cx="1468.64" cy="954.70" r="4.6"/>
<circle cx="1463.54" cy="959.86" r="4.6"/>
<circle cx="1473.14" cy="959.86" r="4.6"/>
<circle cx="1466.74" cy="963.83" r="4.6"/>
<circle cx="1473.74" cy="963.83" r="4.6"/>
<circle cx="1468.64" cy="976.14" r="4.6"/>
<circle cx="1464.84" cy="983.68" r="4.6"/>
<circle cx="1472.44" cy="983.68" r="4.6"/>
<circle cx="1468.64" cy="947.95" r="4.6"/>
<line x1="929.00" y1="927.30" x2="929.00" y2="949.80" stroke="#ff0000" stroke-width="2.85"/>
<line x1="921.70" y1="927.30" x2="936.30" y2="927.30" stroke="#ff0000" stroke-width="3.0"/>
<line x1="914.00" y1="949.80" x2="944.00" y2="949.80" stroke="#ff0000" stroke-width="3.0"/>
<line x1="973.97" y1="922.50" x2="973.97" y2="948.70" stroke="#ff0000" stroke-width="2.85"/>
<line x1="966.67" y1="922.50" x2="981.27" y2="922.50" stroke="#ff0000" stroke-width="3.0"/>
<line x1="958.97" y1="948.70" x2="988.97" y2="948.70" stroke="#ff0000" stroke-width="3.0"/>
<line x1="1018.94" y1="932.80" x2="1018.94" y2="958.90" stroke="#ff0000" stroke-width="2.85"/>
<line x1="1011.64" y1="932.80" x2="1026.24" y2="932.80" stroke="#ff0000" stroke-width="3.0"/>
<line x1="1003.94" y1="958.90" x2="1033.94" y2="958.90" stroke="#ff0000" stroke-width="3.0"/>
<line x1="1063.91" y1="933.70" x2="1063.91" y2="950.00" stroke="#ff0000" stroke-width="2.85"/>
<line x1="1056.61" y1="933.70" x2="1071.21" y2="933.70" stroke="#ff0000" stroke-width="3.0"/>
<line x1="1048.91" y1="950.00" x2="1078.91" y2="950.00" stroke="#ff0000" stroke-width="3.0"/>
<line x1="1108.88" y1="920.70" x2="1108.88" y2="946.60" stroke="#ff0000" stroke-width="2.85"/>
<line x1="1101.58" y1="920.70" x2="1116.18" y2="920.70" stroke="#ff0000" stroke-width="3.0"/>
<line x1="1093.88" y1="946.60" x2="1123.88" y2="946.60" stroke="#ff0000" stroke-width="3.0"/>
<line x1="1153.85" y1="913.90" x2="1153.85" y2="940.70" stroke="#ff0000" stroke-width="2.85"/>
<line x1="1146.55" y1="913.90" x2="1161.15" y2="913.90" stroke="#ff0000" stroke-width="3.0"/>
<line x1="1138.85" y1="940.70" x2="1168.85" y2="940.70" stroke="#ff0000" stroke-width="3.0"/>
<line x1="1198.82" y1="940.90" x2="1198.82" y2="962.30" stroke="#ff0000" stroke-width="2.85"/>
<line x1="1191.52" y1="940.90" x2="1206.12" y2="940.90" stroke="#ff0000" stroke-width="3.0"/>
<line x1="1183.82" y1="962.30" x2="1213.82" y2="962.30" stroke="#ff0000" stroke-width="3.0"/>
<line x1="1243.79" y1="884.60" x2="1243.79" y2="932.40" stroke="#ff0000" stroke-width="2.85"/>
<line x1="1236.49" y1="884.60" x2="1251.09" y2="884.60" stroke="#ff0000" stroke-width="3.0"/>
<line x1="1228.79" y1="932.40" x2="1258.79" y2="932.40" stroke="#ff0000" stroke-width="3.0"/>
<line x1="1288.76" y1="931.50" x2="1288.76" y2="955.60" stroke="#ff0000" stroke-width="2.85"/>
<line x1="1281.46" y1="931.50" x2="1296.06" y2="931.50" stroke="#ff0000" stroke-width="3.0"/>
<line x1="1273.76" y1="955.60" x2="1303.76" y2="955.60" stroke="#ff0000" stroke-width="3.0"/>
<line x1="1333.73" y1="907.60" x2="1333.73" y2="937.50" stroke="#ff0000" stroke-width="2.85"/>
<line x1="1326.43" y1="907.60" x2="1341.03" y2="907.60" stroke="#ff0000" stroke-width="3.0"/>
<line x1="1318.73" y1="937.50" x2="1348.73" y2="937.50" stroke="#ff0000" stroke-width="3.0"/>
<line x1="1378.70" y1="916.50" x2="1378.70" y2="939.60" stroke="#ff0000" stroke-width="2.85"/>
<line x1="1371.40" y1="916.50" x2="1386.00" y2="916.50" stroke="#ff0000" stroke-width="3.0"/>
<line x1="1363.70" y1="939.60" x2="1393.70" y2="939.60" stroke="#ff0000" stroke-width="3.0"/>
<line x1="1423.67" y1="927.90" x2="1423.67" y2="951.90" stroke="#ff0000" stroke-width="2.85"/>
<line x1="1416.37" y1="927.90" x2="1430.97" y2="927.90" stroke="#ff0000" stroke-width="3.0"/>
<line x1="1408.67" y1="951.90" x2="1438.67" y2="951.90" stroke="#ff0000" stroke-width="3.0"/>
<line x1="1468.64" y1="922.80" x2="1468.64" y2="948.30" stroke="#ff0000" stroke-width="2.85"/>
<line x1="1461.34" y1="922.80" x2="1475.94" y2="922.80" stroke="#ff0000" stroke-width="3.0"/>
<line x1="1453.64" y1="948.30" x2="1483.64" y2="948.30" stroke="#ff0000" stroke-width="3.0"/>
<text x="16.40" y="1226.80" font-size="54" text-anchor="start" font-weight="normal" font-style="normal" >E</text>
<line x1="122.00" y1="1237.70" x2="122.00" y2="1647.30" stroke="#000" stroke-width="2.2" stroke-linecap="butt"/>
<line x1="120.90" y1="1646.20" x2="607.30" y2="1646.20" stroke="#000" stroke-width="2.2" stroke-linecap="butt"/>
<line x1="115.20" y1="1646.20" x2="122.00" y2="1646.20" stroke="#000" stroke-width="2.2" stroke-linecap="butt"/>
<text x="112.70" y="1652.97" font-size="18.8" text-anchor="end" font-weight="normal" font-style="normal" >0</text>
<line x1="115.20" y1="1564.70" x2="122.00" y2="1564.70" stroke="#000" stroke-width="2.2" stroke-linecap="butt"/>
<text x="112.70" y="1571.47" font-size="18.8" text-anchor="end" font-weight="normal" font-style="normal" >20</text>
<line x1="115.20" y1="1483.20" x2="122.00" y2="1483.20" stroke="#000" stroke-width="2.2" stroke-linecap="butt"/>
<text x="112.70" y="1489.97" font-size="18.8" text-anchor="end" font-weight="normal" font-style="normal" >40</text>
<line x1="115.20" y1="1401.70" x2="122.00" y2="1401.70" stroke="#000" stroke-width="2.2" stroke-linecap="butt"/>
<text x="112.70" y="1408.47" font-size="18.8" text-anchor="end" font-weight="normal" font-style="normal" >60</text>
<line x1="115.20" y1="1320.20" x2="122.00" y2="1320.20" stroke="#000" stroke-width="2.2" stroke-linecap="butt"/>
<text x="112.70" y="1326.97" font-size="18.8" text-anchor="end" font-weight="normal" font-style="normal" >80</text>
<line x1="115.20" y1="1238.70" x2="122.00" y2="1238.70" stroke="#000" stroke-width="2.2" stroke-linecap="butt"/>
<text x="112.70" y="1245.47" font-size="18.8" text-anchor="end" font-weight="normal" font-style="normal" >100</text>
<line x1="162.30" y1="1646.20" x2="162.30" y2="1653.20" stroke="#000" stroke-width="2.2" stroke-linecap="butt"/>
<line x1="242.95" y1="1646.20" x2="242.95" y2="1653.20" stroke="#000" stroke-width="2.2" stroke-linecap="butt"/>
<line x1="323.60" y1="1646.20" x2="323.60" y2="1653.20" stroke="#000" stroke-width="2.2" stroke-linecap="butt"/>
<line x1="404.25" y1="1646.20" x2="404.25" y2="1653.20" stroke="#000" stroke-width="2.2" stroke-linecap="butt"/>
<line x1="484.90" y1="1646.20" x2="484.90" y2="1653.20" stroke="#000" stroke-width="2.2" stroke-linecap="butt"/>
<line x1="565.55" y1="1646.20" x2="565.55" y2="1653.20" stroke="#000" stroke-width="2.2" stroke-linecap="butt"/>
<text transform="translate(66.4,1441.9) rotate(-90)" font-size="22.2" text-anchor="middle">Aggregates per HPF</text>
<circle cx="162.30" cy="1398.10" r="5.0"/>
<circle cx="162.30" cy="1434.40" r="5.0"/>
<circle cx="140.10" cy="1467.40" r="5.0"/>
<circle cx="184.90" cy="1467.40" r="5.0"/>
<circle cx="162.30" cy="1471.50" r="5.0"/>
<circle cx="162.30" cy="1483.70" r="5.0"/>
<circle cx="162.30" cy="1500.10" r="5.0"/>
<circle cx="162.30" cy="1520.20" r="5.0"/>
<circle cx="140.10" cy="1532.60" r="5.0"/>
<circle cx="184.90" cy="1528.60" r="5.0"/>
<circle cx="220.90" cy="1602.20" r="5.0"/>
<circle cx="235.50" cy="1610.60" r="5.0"/>
<circle cx="250.50" cy="1605.90" r="5.0"/>
<circle cx="265.60" cy="1606.20" r="5.0"/>
<circle cx="220.90" cy="1614.30" r="5.0"/>
<circle cx="220.90" cy="1626.30" r="5.0"/>
<circle cx="235.50" cy="1621.80" r="5.0"/>
<circle cx="265.60" cy="1622.30" r="5.0"/>
<circle cx="265.60" cy="1634.70" r="5.0"/>
<circle cx="250.50" cy="1638.50" r="5.0"/>
<circle cx="220.90" cy="1642.40" r="5.0"/>
<circle cx="323.60" cy="1573.30" r="5.0"/>
<circle cx="301.60" cy="1593.70" r="5.0"/>
<circle cx="316.60" cy="1601.70" r="5.0"/>
<circle cx="331.20" cy="1597.90" r="5.0"/>
<circle cx="346.20" cy="1602.00" r="5.0"/>
<circle cx="301.60" cy="1606.20" r="5.0"/>
<circle cx="331.20" cy="1618.50" r="5.0"/>
<circle cx="316.60" cy="1622.30" r="5.0"/>
<circle cx="316.60" cy="1638.50" r="5.0"/>
<circle cx="346.20" cy="1638.50" r="5.0"/>
<circle cx="301.60" cy="1646.60" r="5.0"/>
<circle cx="331.20" cy="1646.60" r="5.0"/>
<circle cx="395.10" cy="1569.30" r="5.0"/>
<circle cx="395.10" cy="1581.50" r="5.0"/>
<circle cx="413.90" cy="1577.70" r="5.0"/>
<circle cx="413.90" cy="1589.40" r="5.0"/>
<circle cx="404.30" cy="1602.00" r="5.0"/>
<circle cx="485.20" cy="1553.10" r="5.0"/>
<circle cx="494.70" cy="1581.50" r="5.0"/>
<circle cx="476.00" cy="1589.90" r="5.0"/>
<circle cx="485.20" cy="1610.30" r="5.0"/>
<circle cx="485.20" cy="1622.00" r="5.0"/>
<circle cx="543.70" cy="1602.00" r="5.0"/>
<circle cx="588.40" cy="1606.10" r="5.0"/>
<circle cx="565.60" cy="1610.00" r="5.0"/>
<circle cx="543.70" cy="1618.40" r="5.0"/>
<circle cx="588.40" cy="1618.40" r="5.0"/>
<line x1="162.30" y1="1437.70" x2="162.30" y2="1480.40" stroke="#ff0000" stroke-width="3.13"/>
<line x1="149.10" y1="1437.70" x2="175.50" y2="1437.70" stroke="#ff0000" stroke-width="3.3"/>
<line x1="135.70" y1="1480.40" x2="188.90" y2="1480.40" stroke="#ff0000" stroke-width="3.3"/>
<line x1="242.95" y1="1606.70" x2="242.95" y2="1620.50" stroke="#ff0000" stroke-width="3.13"/>
<line x1="229.75" y1="1606.70" x2="256.15" y2="1606.70" stroke="#ff0000" stroke-width="3.3"/>
<line x1="216.35" y1="1620.50" x2="269.55" y2="1620.50" stroke="#ff0000" stroke-width="3.3"/>
<line x1="323.60" y1="1592.00" x2="323.60" y2="1615.60" stroke="#ff0000" stroke-width="3.13"/>
<line x1="310.40" y1="1592.00" x2="336.80" y2="1592.00" stroke="#ff0000" stroke-width="3.3"/>
<line x1="297.00" y1="1615.60" x2="350.20" y2="1615.60" stroke="#ff0000" stroke-width="3.3"/>
<line x1="404.25" y1="1571.50" x2="404.25" y2="1583.90" stroke="#ff0000" stroke-width="3.13"/>
<line x1="391.05" y1="1571.50" x2="417.45" y2="1571.50" stroke="#ff0000" stroke-width="3.3"/>
<line x1="377.65" y1="1583.90" x2="430.85" y2="1583.90" stroke="#ff0000" stroke-width="3.3"/>
<line x1="484.90" y1="1564.60" x2="484.90" y2="1591.40" stroke="#ff0000" stroke-width="3.13"/>
<line x1="471.70" y1="1564.60" x2="498.10" y2="1564.60" stroke="#ff0000" stroke-width="3.3"/>
<line x1="458.30" y1="1591.40" x2="511.50" y2="1591.40" stroke="#ff0000" stroke-width="3.3"/>
<line x1="565.55" y1="1603.60" x2="565.55" y2="1611.20" stroke="#ff0000" stroke-width="3.13"/>
<line x1="552.35" y1="1603.60" x2="578.75" y2="1603.60" stroke="#ff0000" stroke-width="3.3"/>
<line x1="538.95" y1="1611.20" x2="592.15" y2="1611.20" stroke="#ff0000" stroke-width="3.3"/>
<text x="246.60" y="1581.00" font-size="21.8" text-anchor="middle" stroke="#000" stroke-width="0.35">****</text>
<text x="323.60" y="1559.20" font-size="21.8" text-anchor="middle" stroke="#000" stroke-width="0.35">****</text>
<text x="162.30" y="1673.10" font-size="18.7" text-anchor="middle" font-weight="normal" font-style="normal" >DMSO</text>
<text x="242.95" y="1673.10" font-size="18.7" text-anchor="middle" font-weight="normal" font-style="normal" >Doxy</text>
<text x="323.60" y="1673.10" font-size="18.7" text-anchor="middle" font-weight="normal" font-style="normal" >Meclo</text>
<text x="404.25" y="1673.10" font-size="18.7" text-anchor="middle" font-weight="normal" font-style="normal" >DMSO</text>
<text x="484.90" y="1673.10" font-size="18.7" text-anchor="middle" font-weight="normal" font-style="normal" >Doxy</text>
<text x="565.55" y="1673.10" font-size="18.7" text-anchor="middle" font-weight="normal" font-style="normal" >Meclo</text>
<path d="M127.00,1683.3 V1689 H352.60 V1683.3" fill="none" stroke="#000" stroke-width="2.2"/>
<path d="M371.75,1683.3 V1689 H596.50 V1683.3" fill="none" stroke="#000" stroke-width="2.2"/>
<text x="241.00" y="1722.60" font-size="21.7" text-anchor="middle" font-weight="normal" font-style="normal" >UCR-11::GFP</text>
<text x="486.6" y="1722.6" font-size="21.7" text-anchor="middle"><tspan font-style="italic">atfs-1(lf);</tspan>UCR-11::GFP</text>
</svg>
</body></html>
